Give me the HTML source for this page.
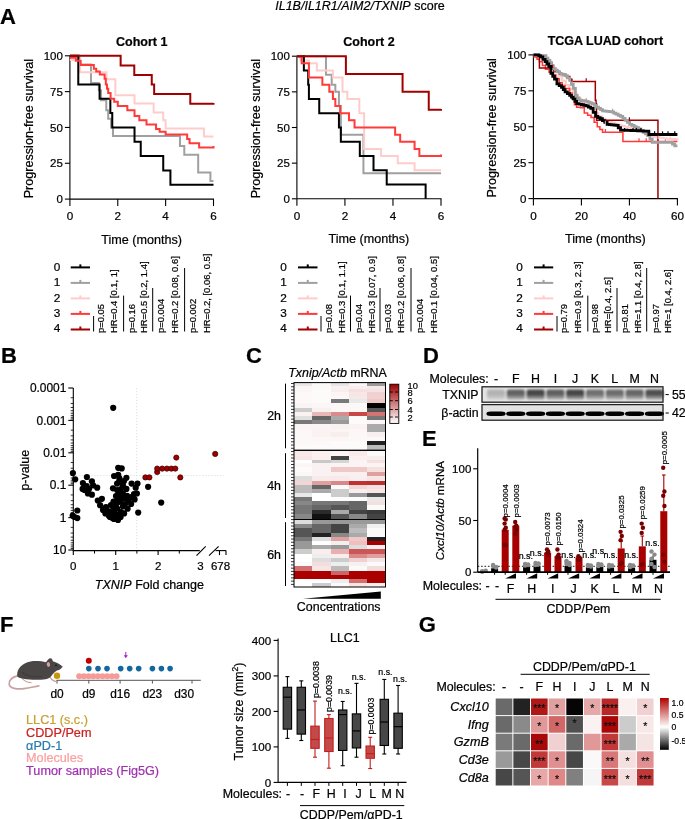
<!DOCTYPE html>
<html><head><meta charset="utf-8"><title>fig</title><style>html,body{margin:0;padding:0;background:#fff;width:685px;height:819px;overflow:hidden}svg{display:block;opacity:0.999}text{font-family:"Liberation Sans",sans-serif;stroke-width:0.22px}text:not([stroke]){stroke:#000}</style></head><body>
<svg width="685" height="819" viewBox="0 0 685 819">
<text x="0.00" y="23.70" font-size="22" font-weight="bold">A</text>
<text x="1.00" y="362.80" font-size="22" font-weight="bold">B</text>
<text x="246.00" y="362.50" font-size="22" font-weight="bold">C</text>
<text x="423.00" y="363.00" font-size="22" font-weight="bold">D</text>
<text x="422.00" y="445.60" font-size="22" font-weight="bold">E</text>
<text x="0.00" y="631.80" font-size="22" font-weight="bold">F</text>
<text x="418.70" y="631.50" font-size="22" font-weight="bold">G</text>
<text x="360" y="9.5" font-size="12.5" text-anchor="middle"><tspan font-style="italic">IL1B/IL1R1/AIM2/TXNIP</tspan> score</text>
<line x1="69.90" y1="55.30" x2="69.90" y2="199.10" stroke="#000" stroke-width="1.1"/>
<line x1="69.90" y1="199.10" x2="214.00" y2="199.10" stroke="#000" stroke-width="1.1"/>
<line x1="64.90" y1="199.10" x2="69.90" y2="199.10" stroke="#000" stroke-width="1.1"/>
<text x="62.90" y="203.20" font-size="11.5" text-anchor="end">0</text>
<line x1="64.90" y1="163.27" x2="69.90" y2="163.27" stroke="#000" stroke-width="1.1"/>
<text x="62.90" y="167.37" font-size="11.5" text-anchor="end">25</text>
<line x1="64.90" y1="127.45" x2="69.90" y2="127.45" stroke="#000" stroke-width="1.1"/>
<text x="62.90" y="131.55" font-size="11.5" text-anchor="end">50</text>
<line x1="64.90" y1="91.62" x2="69.90" y2="91.62" stroke="#000" stroke-width="1.1"/>
<text x="62.90" y="95.72" font-size="11.5" text-anchor="end">75</text>
<line x1="64.90" y1="55.80" x2="69.90" y2="55.80" stroke="#000" stroke-width="1.1"/>
<text x="62.90" y="59.90" font-size="11.5" text-anchor="end">100</text>
<line x1="69.90" y1="199.10" x2="69.90" y2="206.10" stroke="#000" stroke-width="1.1"/>
<text x="69.90" y="220.30" font-size="11.7" text-anchor="middle">0</text>
<line x1="117.77" y1="199.10" x2="117.77" y2="206.10" stroke="#000" stroke-width="1.1"/>
<text x="117.77" y="220.30" font-size="11.7" text-anchor="middle">2</text>
<line x1="165.63" y1="199.10" x2="165.63" y2="206.10" stroke="#000" stroke-width="1.1"/>
<text x="165.63" y="220.30" font-size="11.7" text-anchor="middle">4</text>
<line x1="213.50" y1="199.10" x2="213.50" y2="206.10" stroke="#000" stroke-width="1.1"/>
<text x="213.50" y="220.30" font-size="11.7" text-anchor="middle">6</text>
<text x="141.70" y="243.60" font-size="12.6" text-anchor="middle">Time (months)</text>
<text x="32.90" y="128.65" font-size="12.6" text-anchor="middle" transform="rotate(-90 32.90 128.65)">Progression-free survival</text>
<text x="141.70" y="45.80" font-size="12.5" text-anchor="middle" font-weight="bold">Cohort 1</text>
<path d="M69.90,55.80 H79.47 V64.40 H90.96 V83.03 H98.86 V90.19 H101.01 V100.22 H106.28 V110.25 H108.19 V118.85 H111.07 V127.45 H112.98 V136.05 H179.99 V146.08 H184.30 V154.68 H198.18 V172.45 H210.39 V181.04 H213.50 V181.04" fill="none" stroke="#a0a0a0" stroke-width="2.0" stroke-linejoin="miter" stroke-linecap="butt"/>
<path d="M69.90,60.10 H79.95 V72.28 H106.52 V79.30 H115.37 V95.35 H134.52 V103.52 H153.67 V112.40 H163.24 V120.28 H165.63 V128.60 H203.93 V136.48 H213.50 V136.48" fill="none" stroke="#ffcccc" stroke-width="2.0" stroke-linejoin="miter" stroke-linecap="butt"/>
<path d="M69.90,55.80 H78.28 V84.46 H99.58 V98.79 H110.35 V113.12 H112.26 V127.45 H134.52 V141.78 H140.74 V156.11 H163.24 V170.44 H170.42 V184.77 H213.50 V184.77" fill="none" stroke="#000000" stroke-width="2.0" stroke-linejoin="miter" stroke-linecap="butt"/>
<path d="M69.90,57.66 H75.88 V60.67 H80.67 V65.11 H93.83 V68.70 H96.23 V71.56 H99.82 V74.43 H104.60 V78.73 H105.80 V84.46 H107.00 V88.76 H108.19 V93.06 H110.59 V98.79 H114.18 V101.66 H117.77 V105.95 H127.34 V110.25 H134.52 V115.99 H139.31 V120.28 H146.49 V124.58 H156.06 V128.88 H159.65 V131.75 H165.63 V134.61 H187.17 V138.91 H189.57 V143.21 H199.14 V147.51 H213.50 V146.08" fill="none" stroke="#ff3a3a" stroke-width="2.0" stroke-linejoin="miter" stroke-linecap="butt"/>
<path d="M69.90,55.80 H120.64 V65.40 H134.28 V75.00 H151.75 V84.46 H154.15 V94.06 H190.28 V103.66 H213.50 V103.09" fill="none" stroke="#a00000" stroke-width="2.0" stroke-linejoin="miter" stroke-linecap="butt"/>
<line x1="296.90" y1="55.70" x2="296.90" y2="198.80" stroke="#000" stroke-width="1.1"/>
<line x1="296.90" y1="198.80" x2="441.50" y2="198.80" stroke="#000" stroke-width="1.1"/>
<line x1="291.90" y1="198.80" x2="296.90" y2="198.80" stroke="#000" stroke-width="1.1"/>
<text x="289.90" y="202.90" font-size="11.5" text-anchor="end">0</text>
<line x1="291.90" y1="163.15" x2="296.90" y2="163.15" stroke="#000" stroke-width="1.1"/>
<text x="289.90" y="167.25" font-size="11.5" text-anchor="end">25</text>
<line x1="291.90" y1="127.50" x2="296.90" y2="127.50" stroke="#000" stroke-width="1.1"/>
<text x="289.90" y="131.60" font-size="11.5" text-anchor="end">50</text>
<line x1="291.90" y1="91.85" x2="296.90" y2="91.85" stroke="#000" stroke-width="1.1"/>
<text x="289.90" y="95.95" font-size="11.5" text-anchor="end">75</text>
<line x1="291.90" y1="56.20" x2="296.90" y2="56.20" stroke="#000" stroke-width="1.1"/>
<text x="289.90" y="60.30" font-size="11.5" text-anchor="end">100</text>
<line x1="296.90" y1="198.80" x2="296.90" y2="205.80" stroke="#000" stroke-width="1.1"/>
<text x="296.90" y="220.00" font-size="11.7" text-anchor="middle">0</text>
<line x1="344.93" y1="198.80" x2="344.93" y2="205.80" stroke="#000" stroke-width="1.1"/>
<text x="344.93" y="220.00" font-size="11.7" text-anchor="middle">2</text>
<line x1="392.97" y1="198.80" x2="392.97" y2="205.80" stroke="#000" stroke-width="1.1"/>
<text x="392.97" y="220.00" font-size="11.7" text-anchor="middle">4</text>
<line x1="441.00" y1="198.80" x2="441.00" y2="205.80" stroke="#000" stroke-width="1.1"/>
<text x="441.00" y="220.00" font-size="11.7" text-anchor="middle">6</text>
<text x="368.90" y="243.30" font-size="12.6" text-anchor="middle">Time (months)</text>
<text x="259.90" y="128.70" font-size="12.6" text-anchor="middle" transform="rotate(-90 259.90 128.70)">Progression-free survival</text>
<text x="368.95" y="46.20" font-size="12.5" text-anchor="middle" font-weight="bold">Cohort 2</text>
<path d="M296.90,56.20 H325.96 V74.74 H331.72 V84.72 H335.33 V91.85 H338.93 V106.11 H340.85 V134.63 H363.43 V173.13 H441.00 V173.13" fill="none" stroke="#a0a0a0" stroke-width="2.0" stroke-linejoin="miter" stroke-linecap="butt"/>
<path d="M296.90,56.20 H300.50 V60.48 H308.91 V63.33 H316.83 V70.46 H332.92 V77.59 H342.53 V91.85 H347.33 V98.98 H359.34 V113.24 H364.15 V148.89 H380.96 V156.02 H397.77 V163.15 H414.58 V170.28 H441.00 V170.28" fill="none" stroke="#ffcccc" stroke-width="2.0" stroke-linejoin="miter" stroke-linecap="butt"/>
<path d="M296.90,56.20 H303.86 V70.46 H308.19 V84.72 H308.91 V98.98 H319.24 V113.24 H338.93 V127.50 H340.85 V141.76 H359.82 V156.02 H373.51 V170.28 H386.72 V184.54 H425.63 V198.80" fill="none" stroke="#000000" stroke-width="2.0" stroke-linejoin="miter" stroke-linecap="butt"/>
<path d="M296.90,56.20 H301.70 V63.33 H308.91 V77.59 H322.36 V84.72 H329.32 V91.85 H332.92 V98.98 H335.33 V106.11 H340.13 V113.24 H349.02 V120.37 H354.54 V127.50 H395.13 V134.63 H400.17 V141.76 H414.58 V148.89 H419.38 V156.02 H441.00 V154.59" fill="none" stroke="#ff3a3a" stroke-width="2.0" stroke-linejoin="miter" stroke-linecap="butt"/>
<path d="M296.90,56.20 H345.89 V74.02 H402.57 V91.85 H428.75 V109.67 H441.00 V108.96" fill="none" stroke="#a00000" stroke-width="2.0" stroke-linejoin="miter" stroke-linecap="butt"/>
<line x1="533.40" y1="54.40" x2="533.40" y2="198.60" stroke="#000" stroke-width="1.1"/>
<line x1="533.40" y1="198.60" x2="677.90" y2="198.60" stroke="#000" stroke-width="1.1"/>
<line x1="528.40" y1="198.60" x2="533.40" y2="198.60" stroke="#000" stroke-width="1.1"/>
<text x="526.40" y="202.70" font-size="11.5" text-anchor="end">0</text>
<line x1="528.40" y1="162.68" x2="533.40" y2="162.68" stroke="#000" stroke-width="1.1"/>
<text x="526.40" y="166.78" font-size="11.5" text-anchor="end">25</text>
<line x1="528.40" y1="126.75" x2="533.40" y2="126.75" stroke="#000" stroke-width="1.1"/>
<text x="526.40" y="130.85" font-size="11.5" text-anchor="end">50</text>
<line x1="528.40" y1="90.82" x2="533.40" y2="90.82" stroke="#000" stroke-width="1.1"/>
<text x="526.40" y="94.92" font-size="11.5" text-anchor="end">75</text>
<line x1="528.40" y1="54.90" x2="533.40" y2="54.90" stroke="#000" stroke-width="1.1"/>
<text x="526.40" y="59.00" font-size="11.5" text-anchor="end">100</text>
<line x1="533.40" y1="198.60" x2="533.40" y2="205.60" stroke="#000" stroke-width="1.1"/>
<text x="533.40" y="219.80" font-size="11.7" text-anchor="middle">0</text>
<line x1="581.40" y1="198.60" x2="581.40" y2="205.60" stroke="#000" stroke-width="1.1"/>
<text x="581.40" y="219.80" font-size="11.7" text-anchor="middle">20</text>
<line x1="629.40" y1="198.60" x2="629.40" y2="205.60" stroke="#000" stroke-width="1.1"/>
<text x="629.40" y="219.80" font-size="11.7" text-anchor="middle">40</text>
<line x1="677.40" y1="198.60" x2="677.40" y2="205.60" stroke="#000" stroke-width="1.1"/>
<text x="677.40" y="219.80" font-size="11.7" text-anchor="middle">60</text>
<text x="605.40" y="243.10" font-size="12.6" text-anchor="middle">Time (months)</text>
<text x="496.40" y="127.95" font-size="12.6" text-anchor="middle" transform="rotate(-90 496.40 127.95)">Progression-free survival</text>
<text x="605.40" y="44.90" font-size="12.5" text-anchor="middle" font-weight="bold">TCGA LUAD cohort</text>
<path d="M533.40,54.90 H537.00 V56.34 H540.60 V57.77 H544.20 V60.65 H547.80 V63.52 H551.40 V67.83 H555.00 V72.14 H558.60 V76.46 H562.20 V80.77 H565.80 V85.08 H569.40 V89.39 H573.00 V93.70 H576.60 V98.01 H580.20 V100.88 H583.80 V103.76 H587.40 V106.63 H591.00 V109.51 H594.60 V113.10 H598.20 V116.69 H601.80 V118.85 H605.40 V121.00 H608.60 V121.96 H611.80 V122.92 H615.00 V123.88 H618.20 V124.83 H621.40 V125.79 H624.60 V126.75 H627.80 V127.71 H631.00 V128.67 H634.20 V129.62 H637.40 V130.58 H640.60 V131.54 H643.80 V132.50 H647.00 V133.94 H650.20 V135.37 H653.40 V136.81 H656.60 V137.29 H659.80 V137.77 H663.00 V138.25 H665.88 V138.53 H668.76 V138.82 H671.64 V139.11 H674.52 V139.40 H677.40 V139.68" fill="none" stroke="#ffcccc" stroke-width="2.2" stroke-linejoin="miter" stroke-linecap="butt"/>
<path d="M533.40,56.91 H537.00 V59.21 H539.40 V61.65 H542.40 V65.46 H545.40 V69.27 H549.00 V72.14 H552.60 V75.02 H555.96 V78.83 H559.32 V82.63 H562.20 V85.51 H565.08 V88.38 H569.64 V93.12 H572.04 V98.87 H574.44 V104.76 H576.60 V107.21 H580.44 V107.85 H584.28 V108.50 H584.28 V113.10 H587.64 V115.33 H591.00 V117.55 H594.12 V122.15 H597.24 V126.75 H599.88 V129.48 H602.52 V132.21 H622.92 V132.21 H622.92 V141.41 H677.40 V141.41" fill="none" stroke="#ff3a3a" stroke-width="1.5" stroke-linejoin="miter" stroke-linecap="butt"/>
<path d="M533.40,54.90 H539.40 V67.98 H551.40 V67.98 H553.80 V71.43 H559.80 V74.30 H565.80 V76.46 H569.88 V80.05 H572.04 V81.48 H594.84 V81.48 H595.32 V100.17 H596.04 V103.76 H596.52 V120.28 H657.96 V120.28 H657.96 V198.60" fill="none" stroke="#a00000" stroke-width="1.5" stroke-linejoin="miter" stroke-linecap="butt"/>
<path d="M533.40,54.90 H535.51 V55.07 H537.62 V55.24 H539.74 V55.42 H541.85 V55.59 H543.96 V55.76 H545.96 V58.06 H547.96 V60.36 H549.96 V62.66 H551.64 V65.61 H553.32 V68.55 H555.32 V70.13 H557.32 V71.71 H559.32 V73.29 H561.24 V74.06 H563.16 V74.83 H565.08 V75.59 H567.36 V77.96 H569.64 V80.33 H571.44 V84.36 H573.24 V88.38 H575.40 V95.42 H577.20 V97.79 H579.00 V100.17 H581.32 V100.55 H583.64 V100.93 H585.96 V101.32 H587.96 V102.08 H589.96 V102.85 H591.96 V103.61 H594.24 V105.41 H596.52 V107.21 H598.52 V108.40 H600.52 V109.60 H602.52 V110.80 H604.74 V111.09 H606.96 V111.37 H609.18 V111.66 H611.40 V111.95 H613.68 V113.06 H615.96 V114.18 H618.24 V115.29 H620.52 V116.40 H622.80 V118.38 H625.08 V120.36 H627.36 V122.33 H629.64 V124.31 H631.86 V125.46 H634.08 V126.61 H636.30 V127.76 H638.52 V128.91 H640.80 V130.59 H643.08 V132.28 H645.36 V133.97 H647.64 V135.66 H649.92 V139.04 H652.20 V142.41 H670.20 V142.41 H672.48 V144.14 H674.76 V145.86 H677.40 V145.86" fill="none" stroke="#a0a0a0" stroke-width="2.8" stroke-linejoin="miter" stroke-linecap="butt"/>
<path d="M533.40,54.90 H537.00 V54.90 H538.80 V55.91 H540.60 V56.91 H542.88 V59.28 H545.16 V61.65 H546.96 V64.02 H548.76 V66.40 H550.92 V73.29 H552.72 V76.24 H554.52 V79.19 H556.92 V83.78 H559.20 V85.58 H561.48 V87.38 H563.28 V89.68 H565.08 V91.97 H567.36 V93.70 H569.64 V95.42 H571.44 V97.15 H573.24 V98.87 H574.92 V101.24 H576.60 V103.61 H579.00 V104.19 H581.40 V104.76 H583.68 V105.34 H585.96 V105.91 H588.36 V107.13 H590.76 V108.36 H593.16 V112.38 H595.56 V116.40 H597.84 V117.55 H600.12 V118.70 H602.44 V120.57 H604.76 V122.44 H607.08 V124.31 H609.30 V124.59 H611.52 V124.88 H613.74 V125.17 H615.96 V125.46 H618.24 V127.76 H620.52 V130.06 H622.61 V130.14 H624.69 V130.23 H626.78 V130.32 H628.86 V130.41 H630.95 V130.50 H633.04 V130.59 H635.12 V130.67 H637.21 V130.76 H639.30 V130.85 H641.38 V130.94 H643.47 V131.03 H645.55 V131.12 H647.64 V131.20 H648.84 V134.51 H677.40 V134.51" fill="none" stroke="#000000" stroke-width="2.8" stroke-linejoin="miter" stroke-linecap="butt"/>
<line x1="633.00" y1="128.05" x2="633.00" y2="131.25" stroke="#000000" stroke-width="1.2"/>
<line x1="636.36" y1="128.05" x2="636.36" y2="131.25" stroke="#000000" stroke-width="1.2"/>
<line x1="640.92" y1="128.05" x2="640.92" y2="131.25" stroke="#000000" stroke-width="1.2"/>
<line x1="662.52" y1="131.35" x2="662.52" y2="134.55" stroke="#000000" stroke-width="1.2"/>
<line x1="668.04" y1="131.35" x2="668.04" y2="134.55" stroke="#000000" stroke-width="1.2"/>
<line x1="674.76" y1="131.35" x2="674.76" y2="134.55" stroke="#000000" stroke-width="1.2"/>
<line x1="624.60" y1="128.05" x2="624.60" y2="131.25" stroke="#000000" stroke-width="1.2"/>
<line x1="654.60" y1="131.35" x2="654.60" y2="134.55" stroke="#000000" stroke-width="1.2"/>
<line x1="605.40" y1="120.73" x2="605.40" y2="123.93" stroke="#a0a0a0" stroke-width="1.2"/>
<line x1="612.60" y1="108.81" x2="612.60" y2="112.01" stroke="#a0a0a0" stroke-width="1.2"/>
<line x1="586.20" y1="98.18" x2="586.20" y2="101.38" stroke="#a0a0a0" stroke-width="1.2"/>
<line x1="665.40" y1="139.25" x2="665.40" y2="142.45" stroke="#a0a0a0" stroke-width="1.2"/>
<line x1="552.60" y1="64.87" x2="552.60" y2="68.07" stroke="#a00000" stroke-width="1.2"/>
<line x1="571.80" y1="78.37" x2="571.80" y2="81.57" stroke="#a00000" stroke-width="1.2"/>
<line x1="586.20" y1="78.37" x2="586.20" y2="81.57" stroke="#a00000" stroke-width="1.2"/>
<line x1="629.40" y1="117.14" x2="629.40" y2="120.34" stroke="#a00000" stroke-width="1.2"/>
<line x1="605.40" y1="129.06" x2="605.40" y2="132.26" stroke="#ff3a3a" stroke-width="1.2"/>
<line x1="639.00" y1="138.25" x2="639.00" y2="141.45" stroke="#ff3a3a" stroke-width="1.2"/>
<line x1="646.20" y1="138.25" x2="646.20" y2="141.45" stroke="#ff3a3a" stroke-width="1.2"/>
<line x1="658.20" y1="135.81" x2="658.20" y2="139.01" stroke="#ffcccc" stroke-width="1.2"/>
<line x1="670.20" y1="136.52" x2="670.20" y2="139.72" stroke="#ffcccc" stroke-width="1.2"/>
<text x="57.00" y="271.10" font-size="11.8" text-anchor="middle">0</text>
<line x1="70.70" y1="267.40" x2="90.00" y2="267.40" stroke="#000000" stroke-width="2.0"/>
<line x1="80.35" y1="264.40" x2="80.35" y2="267.40" stroke="#000000" stroke-width="2.0"/>
<text x="57.00" y="286.30" font-size="11.8" text-anchor="middle">1</text>
<line x1="70.70" y1="282.90" x2="90.00" y2="282.90" stroke="#a0a0a0" stroke-width="2.0"/>
<line x1="80.35" y1="279.90" x2="80.35" y2="282.90" stroke="#a0a0a0" stroke-width="2.0"/>
<text x="57.00" y="301.50" font-size="11.8" text-anchor="middle">2</text>
<line x1="70.70" y1="298.40" x2="90.00" y2="298.40" stroke="#ffcccc" stroke-width="2.0"/>
<line x1="80.35" y1="295.40" x2="80.35" y2="298.40" stroke="#ffcccc" stroke-width="2.0"/>
<text x="57.00" y="316.80" font-size="11.8" text-anchor="middle">3</text>
<line x1="70.70" y1="313.90" x2="90.00" y2="313.90" stroke="#ff3a3a" stroke-width="2.0"/>
<line x1="80.35" y1="310.90" x2="80.35" y2="313.90" stroke="#ff3a3a" stroke-width="2.0"/>
<text x="57.00" y="332.00" font-size="11.8" text-anchor="middle">4</text>
<line x1="70.70" y1="329.50" x2="90.00" y2="329.50" stroke="#a00000" stroke-width="2.0"/>
<line x1="80.35" y1="326.50" x2="80.35" y2="329.50" stroke="#a00000" stroke-width="2.0"/>
<line x1="93.60" y1="316.00" x2="93.60" y2="331.50" stroke="#000" stroke-width="1"/>
<line x1="123.60" y1="295.60" x2="123.60" y2="331.50" stroke="#000" stroke-width="1"/>
<line x1="152.70" y1="288.00" x2="152.70" y2="331.50" stroke="#000" stroke-width="1"/>
<line x1="184.60" y1="268.00" x2="184.60" y2="331.50" stroke="#000" stroke-width="1"/>
<text x="104.40" y="333.00" font-size="9.45" transform="rotate(-90 104.40 333.00)">p=0.05</text>
<text x="116.90" y="333.00" font-size="9.45" transform="rotate(-90 116.90 333.00)">HR=0.4 [0.1, 1]</text>
<text x="135.40" y="333.00" font-size="9.45" transform="rotate(-90 135.40 333.00)">p=0.16</text>
<text x="147.40" y="333.00" font-size="9.45" transform="rotate(-90 147.40 333.00)">HR=0.5 [0.2, 1.4]</text>
<text x="164.40" y="333.00" font-size="9.45" transform="rotate(-90 164.40 333.00)">p=0.004</text>
<text x="178.20" y="333.00" font-size="9.45" transform="rotate(-90 178.20 333.00)">HR=0.2 [0.08, 0.6]</text>
<text x="196.40" y="333.00" font-size="9.45" transform="rotate(-90 196.40 333.00)">p=0.002</text>
<text x="210.40" y="333.00" font-size="9.45" transform="rotate(-90 210.40 333.00)">HR=0.2, [0.06, 0.5]</text>
<text x="283.50" y="271.10" font-size="11.8" text-anchor="middle">0</text>
<line x1="298.00" y1="267.40" x2="317.50" y2="267.40" stroke="#000000" stroke-width="2.0"/>
<line x1="307.75" y1="264.40" x2="307.75" y2="267.40" stroke="#000000" stroke-width="2.0"/>
<text x="283.50" y="286.30" font-size="11.8" text-anchor="middle">1</text>
<line x1="298.00" y1="282.90" x2="317.50" y2="282.90" stroke="#a0a0a0" stroke-width="2.0"/>
<line x1="307.75" y1="279.90" x2="307.75" y2="282.90" stroke="#a0a0a0" stroke-width="2.0"/>
<text x="283.50" y="301.50" font-size="11.8" text-anchor="middle">2</text>
<line x1="298.00" y1="298.40" x2="317.50" y2="298.40" stroke="#ffcccc" stroke-width="2.0"/>
<line x1="307.75" y1="295.40" x2="307.75" y2="298.40" stroke="#ffcccc" stroke-width="2.0"/>
<text x="283.50" y="316.80" font-size="11.8" text-anchor="middle">3</text>
<line x1="298.00" y1="313.90" x2="317.50" y2="313.90" stroke="#ff3a3a" stroke-width="2.0"/>
<line x1="307.75" y1="310.90" x2="307.75" y2="313.90" stroke="#ff3a3a" stroke-width="2.0"/>
<text x="283.50" y="332.00" font-size="11.8" text-anchor="middle">4</text>
<line x1="298.00" y1="329.50" x2="317.50" y2="329.50" stroke="#a00000" stroke-width="2.0"/>
<line x1="307.75" y1="326.50" x2="307.75" y2="329.50" stroke="#a00000" stroke-width="2.0"/>
<line x1="321.00" y1="316.00" x2="321.00" y2="331.50" stroke="#000" stroke-width="1"/>
<line x1="350.50" y1="295.60" x2="350.50" y2="331.50" stroke="#000" stroke-width="1"/>
<line x1="380.00" y1="288.00" x2="380.00" y2="331.50" stroke="#000" stroke-width="1"/>
<line x1="411.00" y1="268.00" x2="411.00" y2="331.50" stroke="#000" stroke-width="1"/>
<text x="332.40" y="333.00" font-size="9.45" transform="rotate(-90 332.40 333.00)">p=0.08</text>
<text x="345.40" y="333.00" font-size="9.45" transform="rotate(-90 345.40 333.00)">HR=0.3 [0.1, 1.1]</text>
<text x="362.40" y="333.00" font-size="9.45" transform="rotate(-90 362.40 333.00)">p=0.04</text>
<text x="375.10" y="333.00" font-size="9.45" transform="rotate(-90 375.10 333.00)">HR=0.3 [0.07, 0.9]</text>
<text x="391.40" y="333.00" font-size="9.45" transform="rotate(-90 391.40 333.00)">p=0.03</text>
<text x="404.40" y="333.00" font-size="9.45" transform="rotate(-90 404.40 333.00)">HR=0.2 [0.06, 0.8]</text>
<text x="423.40" y="333.00" font-size="9.45" transform="rotate(-90 423.40 333.00)">p=0.004</text>
<text x="437.40" y="333.00" font-size="9.45" transform="rotate(-90 437.40 333.00)">HR=0.1 [0.04, 0.5]</text>
<text x="519.50" y="271.10" font-size="11.8" text-anchor="middle">0</text>
<line x1="534.00" y1="267.40" x2="553.20" y2="267.40" stroke="#000000" stroke-width="2.0"/>
<line x1="543.60" y1="264.40" x2="543.60" y2="267.40" stroke="#000000" stroke-width="2.0"/>
<text x="519.50" y="286.30" font-size="11.8" text-anchor="middle">1</text>
<line x1="534.00" y1="282.90" x2="553.20" y2="282.90" stroke="#a0a0a0" stroke-width="2.0"/>
<line x1="543.60" y1="279.90" x2="543.60" y2="282.90" stroke="#a0a0a0" stroke-width="2.0"/>
<text x="519.50" y="301.50" font-size="11.8" text-anchor="middle">2</text>
<line x1="534.00" y1="298.40" x2="553.20" y2="298.40" stroke="#ffcccc" stroke-width="2.0"/>
<line x1="543.60" y1="295.40" x2="543.60" y2="298.40" stroke="#ffcccc" stroke-width="2.0"/>
<text x="519.50" y="316.80" font-size="11.8" text-anchor="middle">3</text>
<line x1="534.00" y1="313.90" x2="553.20" y2="313.90" stroke="#ff3a3a" stroke-width="2.0"/>
<line x1="543.60" y1="310.90" x2="543.60" y2="313.90" stroke="#ff3a3a" stroke-width="2.0"/>
<text x="519.50" y="332.00" font-size="11.8" text-anchor="middle">4</text>
<line x1="534.00" y1="329.50" x2="553.20" y2="329.50" stroke="#a00000" stroke-width="2.0"/>
<line x1="543.60" y1="326.50" x2="543.60" y2="329.50" stroke="#a00000" stroke-width="2.0"/>
<line x1="557.00" y1="316.00" x2="557.00" y2="331.50" stroke="#000" stroke-width="1"/>
<line x1="587.80" y1="295.60" x2="587.80" y2="331.50" stroke="#000" stroke-width="1"/>
<line x1="617.00" y1="288.00" x2="617.00" y2="331.50" stroke="#000" stroke-width="1"/>
<line x1="646.70" y1="268.00" x2="646.70" y2="331.50" stroke="#000" stroke-width="1"/>
<text x="567.40" y="333.00" font-size="9.45" transform="rotate(-90 567.40 333.00)">p=0.79</text>
<text x="581.10" y="333.00" font-size="9.45" transform="rotate(-90 581.10 333.00)">HR=0.9 [0.3, 2.3]</text>
<text x="598.40" y="333.00" font-size="9.45" transform="rotate(-90 598.40 333.00)">p=0.98</text>
<text x="610.80" y="333.00" font-size="9.45" transform="rotate(-90 610.80 333.00)">HR=[0.4, 2.5]</text>
<text x="628.40" y="333.00" font-size="9.45" transform="rotate(-90 628.40 333.00)">p=0.81</text>
<text x="640.90" y="333.00" font-size="9.45" transform="rotate(-90 640.90 333.00)">HR=1.1 [0.4, 2.8]</text>
<text x="659.40" y="333.00" font-size="9.45" transform="rotate(-90 659.40 333.00)">p=0.97</text>
<text x="670.90" y="333.00" font-size="9.45" transform="rotate(-90 670.90 333.00)">HR=1 [0.4, 2.6]</text>
<line x1="136.7" y1="388" x2="136.7" y2="550.6" stroke="#d6d6d6" stroke-width="0.8" stroke-dasharray="1.2,1.8"/>
<line x1="73.3" y1="475.5" x2="224" y2="475.5" stroke="#d6d6d6" stroke-width="0.8" stroke-dasharray="1.2,1.8"/>
<line x1="73.30" y1="388.00" x2="73.30" y2="551.10" stroke="#000" stroke-width="1.1"/>
<line x1="68.30" y1="388.00" x2="73.30" y2="388.00" stroke="#000" stroke-width="1.1"/>
<text x="66.30" y="392.10" font-size="11.9" text-anchor="end">0.0001</text>
<line x1="70.70" y1="397.75" x2="73.30" y2="397.75" stroke="#000" stroke-width="0.8"/>
<line x1="70.70" y1="403.46" x2="73.30" y2="403.46" stroke="#000" stroke-width="0.8"/>
<line x1="70.70" y1="407.51" x2="73.30" y2="407.51" stroke="#000" stroke-width="0.8"/>
<line x1="70.70" y1="410.65" x2="73.30" y2="410.65" stroke="#000" stroke-width="0.8"/>
<line x1="70.70" y1="413.21" x2="73.30" y2="413.21" stroke="#000" stroke-width="0.8"/>
<line x1="70.70" y1="415.38" x2="73.30" y2="415.38" stroke="#000" stroke-width="0.8"/>
<line x1="70.70" y1="417.26" x2="73.30" y2="417.26" stroke="#000" stroke-width="0.8"/>
<line x1="70.70" y1="418.92" x2="73.30" y2="418.92" stroke="#000" stroke-width="0.8"/>
<line x1="68.30" y1="420.40" x2="73.30" y2="420.40" stroke="#000" stroke-width="1.1"/>
<text x="66.30" y="424.50" font-size="11.9" text-anchor="end">0.001</text>
<line x1="70.70" y1="430.15" x2="73.30" y2="430.15" stroke="#000" stroke-width="0.8"/>
<line x1="70.70" y1="435.86" x2="73.30" y2="435.86" stroke="#000" stroke-width="0.8"/>
<line x1="70.70" y1="439.91" x2="73.30" y2="439.91" stroke="#000" stroke-width="0.8"/>
<line x1="70.70" y1="443.05" x2="73.30" y2="443.05" stroke="#000" stroke-width="0.8"/>
<line x1="70.70" y1="445.61" x2="73.30" y2="445.61" stroke="#000" stroke-width="0.8"/>
<line x1="70.70" y1="447.78" x2="73.30" y2="447.78" stroke="#000" stroke-width="0.8"/>
<line x1="70.70" y1="449.66" x2="73.30" y2="449.66" stroke="#000" stroke-width="0.8"/>
<line x1="70.70" y1="451.32" x2="73.30" y2="451.32" stroke="#000" stroke-width="0.8"/>
<line x1="68.30" y1="452.80" x2="73.30" y2="452.80" stroke="#000" stroke-width="1.1"/>
<text x="66.30" y="456.90" font-size="11.9" text-anchor="end">0.01</text>
<line x1="70.70" y1="462.55" x2="73.30" y2="462.55" stroke="#000" stroke-width="0.8"/>
<line x1="70.70" y1="468.26" x2="73.30" y2="468.26" stroke="#000" stroke-width="0.8"/>
<line x1="70.70" y1="472.31" x2="73.30" y2="472.31" stroke="#000" stroke-width="0.8"/>
<line x1="70.70" y1="475.45" x2="73.30" y2="475.45" stroke="#000" stroke-width="0.8"/>
<line x1="70.70" y1="478.01" x2="73.30" y2="478.01" stroke="#000" stroke-width="0.8"/>
<line x1="70.70" y1="480.18" x2="73.30" y2="480.18" stroke="#000" stroke-width="0.8"/>
<line x1="70.70" y1="482.06" x2="73.30" y2="482.06" stroke="#000" stroke-width="0.8"/>
<line x1="70.70" y1="483.72" x2="73.30" y2="483.72" stroke="#000" stroke-width="0.8"/>
<line x1="68.30" y1="485.20" x2="73.30" y2="485.20" stroke="#000" stroke-width="1.1"/>
<text x="66.30" y="489.30" font-size="11.9" text-anchor="end">0.1</text>
<line x1="70.70" y1="494.95" x2="73.30" y2="494.95" stroke="#000" stroke-width="0.8"/>
<line x1="70.70" y1="500.66" x2="73.30" y2="500.66" stroke="#000" stroke-width="0.8"/>
<line x1="70.70" y1="504.71" x2="73.30" y2="504.71" stroke="#000" stroke-width="0.8"/>
<line x1="70.70" y1="507.85" x2="73.30" y2="507.85" stroke="#000" stroke-width="0.8"/>
<line x1="70.70" y1="510.41" x2="73.30" y2="510.41" stroke="#000" stroke-width="0.8"/>
<line x1="70.70" y1="512.58" x2="73.30" y2="512.58" stroke="#000" stroke-width="0.8"/>
<line x1="70.70" y1="514.46" x2="73.30" y2="514.46" stroke="#000" stroke-width="0.8"/>
<line x1="70.70" y1="516.12" x2="73.30" y2="516.12" stroke="#000" stroke-width="0.8"/>
<line x1="68.30" y1="517.60" x2="73.30" y2="517.60" stroke="#000" stroke-width="1.1"/>
<text x="66.30" y="521.70" font-size="11.9" text-anchor="end">1</text>
<line x1="70.70" y1="527.35" x2="73.30" y2="527.35" stroke="#000" stroke-width="0.8"/>
<line x1="70.70" y1="533.06" x2="73.30" y2="533.06" stroke="#000" stroke-width="0.8"/>
<line x1="70.70" y1="537.11" x2="73.30" y2="537.11" stroke="#000" stroke-width="0.8"/>
<line x1="70.70" y1="540.25" x2="73.30" y2="540.25" stroke="#000" stroke-width="0.8"/>
<line x1="70.70" y1="542.81" x2="73.30" y2="542.81" stroke="#000" stroke-width="0.8"/>
<line x1="70.70" y1="544.98" x2="73.30" y2="544.98" stroke="#000" stroke-width="0.8"/>
<line x1="70.70" y1="546.86" x2="73.30" y2="546.86" stroke="#000" stroke-width="0.8"/>
<line x1="70.70" y1="548.52" x2="73.30" y2="548.52" stroke="#000" stroke-width="0.8"/>
<line x1="68.30" y1="550.00" x2="73.30" y2="550.00" stroke="#000" stroke-width="1.1"/>
<text x="66.30" y="554.10" font-size="11.9" text-anchor="end">10</text>
<text x="29.00" y="470.20" font-size="12.4" text-anchor="middle" transform="rotate(-90 29.00 470.20)">p-value</text>
<line x1="72.80" y1="550.60" x2="199.80" y2="550.60" stroke="#000" stroke-width="1.1"/>
<line x1="196.50" y1="555.60" x2="205.70" y2="546.40" stroke="#000" stroke-width="1.1"/>
<line x1="209.00" y1="555.60" x2="218.60" y2="546.40" stroke="#000" stroke-width="1.1"/>
<line x1="215.50" y1="550.60" x2="226.00" y2="550.60" stroke="#000" stroke-width="1.1"/>
<line x1="73.30" y1="550.60" x2="73.30" y2="555.10" stroke="#000" stroke-width="1.1"/>
<text x="73.30" y="570.00" font-size="11.5" text-anchor="middle">0</text>
<line x1="115.70" y1="550.60" x2="115.70" y2="555.10" stroke="#000" stroke-width="1.1"/>
<text x="115.70" y="570.00" font-size="11.5" text-anchor="middle">1</text>
<line x1="158.10" y1="550.60" x2="158.10" y2="555.10" stroke="#000" stroke-width="1.1"/>
<text x="158.10" y="570.00" font-size="11.5" text-anchor="middle">2</text>
<line x1="94.50" y1="550.60" x2="94.50" y2="553.60" stroke="#000" stroke-width="1"/>
<line x1="136.90" y1="550.60" x2="136.90" y2="553.60" stroke="#000" stroke-width="1"/>
<line x1="179.30" y1="550.60" x2="179.30" y2="553.60" stroke="#000" stroke-width="1"/>
<line x1="219.50" y1="550.60" x2="219.50" y2="555.10" stroke="#000" stroke-width="1.1"/>
<line x1="226.00" y1="550.60" x2="226.00" y2="555.10" stroke="#000" stroke-width="1.1"/>
<text x="200.40" y="570.00" font-size="11.5" text-anchor="middle">3</text>
<text x="220.50" y="570.00" font-size="11.5" text-anchor="middle">678</text>
<text x="149.4" y="588.8" font-size="12.5" text-anchor="middle"><tspan font-style="italic">TXNIP</tspan> Fold change</text>
<circle cx="113.20" cy="407.80" r="3.1" fill="#000"/>
<circle cx="72.90" cy="473.10" r="3.1" fill="#000"/>
<circle cx="75.20" cy="479.30" r="3.1" fill="#000"/>
<circle cx="86.90" cy="477.00" r="3.1" fill="#000"/>
<circle cx="82.90" cy="483.00" r="3.1" fill="#000"/>
<circle cx="82.60" cy="488.90" r="3.1" fill="#000"/>
<circle cx="86.70" cy="486.00" r="3.1" fill="#000"/>
<circle cx="91.90" cy="481.30" r="3.1" fill="#000"/>
<circle cx="93.10" cy="485.40" r="3.1" fill="#000"/>
<circle cx="97.20" cy="487.70" r="3.1" fill="#000"/>
<circle cx="87.90" cy="493.50" r="3.1" fill="#000"/>
<circle cx="91.90" cy="494.70" r="3.1" fill="#000"/>
<circle cx="84.50" cy="490.00" r="3.1" fill="#000"/>
<circle cx="89.00" cy="489.00" r="3.1" fill="#000"/>
<circle cx="77.30" cy="510.50" r="3.1" fill="#000"/>
<circle cx="72.70" cy="515.70" r="3.1" fill="#000"/>
<circle cx="77.30" cy="518.10" r="3.1" fill="#000"/>
<circle cx="74.50" cy="517.00" r="3.1" fill="#000"/>
<circle cx="97.80" cy="500.50" r="3.1" fill="#000"/>
<circle cx="101.90" cy="498.80" r="3.1" fill="#000"/>
<circle cx="100.10" cy="505.20" r="3.1" fill="#000"/>
<circle cx="103.00" cy="509.90" r="3.1" fill="#000"/>
<circle cx="105.40" cy="513.40" r="3.1" fill="#000"/>
<circle cx="108.90" cy="515.70" r="3.1" fill="#000"/>
<circle cx="112.40" cy="518.10" r="3.1" fill="#000"/>
<circle cx="117.10" cy="518.60" r="3.1" fill="#000"/>
<circle cx="120.60" cy="516.90" r="3.1" fill="#000"/>
<circle cx="124.10" cy="513.40" r="3.1" fill="#000"/>
<circle cx="127.60" cy="508.70" r="3.1" fill="#000"/>
<circle cx="131.10" cy="504.00" r="3.1" fill="#000"/>
<circle cx="134.60" cy="499.40" r="3.1" fill="#000"/>
<circle cx="136.90" cy="493.50" r="3.1" fill="#000"/>
<circle cx="135.70" cy="487.70" r="3.1" fill="#000"/>
<circle cx="137.50" cy="483.60" r="3.1" fill="#000"/>
<circle cx="131.60" cy="483.60" r="3.1" fill="#000"/>
<circle cx="126.40" cy="477.80" r="3.1" fill="#000"/>
<circle cx="118.20" cy="467.80" r="3.1" fill="#000"/>
<circle cx="121.70" cy="468.40" r="3.1" fill="#000"/>
<circle cx="114.10" cy="476.00" r="3.1" fill="#000"/>
<circle cx="118.20" cy="474.90" r="3.1" fill="#000"/>
<circle cx="119.40" cy="478.40" r="3.1" fill="#000"/>
<circle cx="117.10" cy="483.60" r="3.1" fill="#000"/>
<circle cx="113.00" cy="488.30" r="3.1" fill="#000"/>
<circle cx="117.10" cy="490.00" r="3.1" fill="#000"/>
<circle cx="118.20" cy="494.70" r="3.1" fill="#000"/>
<circle cx="113.50" cy="501.70" r="3.1" fill="#000"/>
<circle cx="122.90" cy="485.40" r="3.1" fill="#000"/>
<circle cx="126.40" cy="488.90" r="3.1" fill="#000"/>
<circle cx="122.90" cy="493.50" r="3.1" fill="#000"/>
<circle cx="127.00" cy="495.90" r="3.1" fill="#000"/>
<circle cx="128.70" cy="500.50" r="3.1" fill="#000"/>
<circle cx="131.10" cy="497.00" r="3.1" fill="#000"/>
<circle cx="120.60" cy="501.70" r="3.1" fill="#000"/>
<circle cx="122.90" cy="506.40" r="3.1" fill="#000"/>
<circle cx="117.10" cy="508.70" r="3.1" fill="#000"/>
<circle cx="114.70" cy="513.40" r="3.1" fill="#000"/>
<circle cx="119.40" cy="514.60" r="3.1" fill="#000"/>
<circle cx="110.00" cy="512.00" r="3.1" fill="#000"/>
<circle cx="106.00" cy="507.00" r="3.1" fill="#000"/>
<circle cx="115.00" cy="517.00" r="3.1" fill="#000"/>
<circle cx="121.00" cy="512.00" r="3.1" fill="#000"/>
<circle cx="125.00" cy="504.00" r="3.1" fill="#000"/>
<circle cx="118.00" cy="499.00" r="3.1" fill="#000"/>
<circle cx="116.00" cy="496.00" r="3.1" fill="#000"/>
<circle cx="121.00" cy="489.00" r="3.1" fill="#000"/>
<circle cx="119.00" cy="482.00" r="3.1" fill="#000"/>
<circle cx="124.00" cy="481.00" r="3.1" fill="#000"/>
<circle cx="115.00" cy="505.00" r="3.1" fill="#000"/>
<circle cx="111.00" cy="505.00" r="3.1" fill="#000"/>
<circle cx="108.00" cy="511.00" r="3.1" fill="#000"/>
<circle cx="113.00" cy="510.00" r="3.1" fill="#000"/>
<circle cx="117.00" cy="503.00" r="3.1" fill="#000"/>
<circle cx="125.00" cy="498.00" r="3.1" fill="#000"/>
<circle cx="134.00" cy="494.00" r="3.1" fill="#000"/>
<circle cx="122.00" cy="498.00" r="3.1" fill="#000"/>
<circle cx="110.00" cy="517.00" r="3.1" fill="#000"/>
<circle cx="114.00" cy="519.00" r="3.1" fill="#000"/>
<circle cx="118.00" cy="520.00" r="3.1" fill="#000"/>
<circle cx="138.20" cy="512.60" r="3.1" fill="#000"/>
<circle cx="148.10" cy="486.80" r="3.1" fill="#000"/>
<circle cx="161.20" cy="502.60" r="3.1" fill="#000"/>
<circle cx="145.40" cy="477.40" r="2.6" fill="#a00000" stroke="#400000" stroke-width="0.8"/>
<circle cx="149.40" cy="477.40" r="2.6" fill="#a00000" stroke="#400000" stroke-width="0.8"/>
<circle cx="157.20" cy="472.00" r="2.6" fill="#a00000" stroke="#400000" stroke-width="0.8"/>
<circle cx="157.20" cy="468.60" r="2.6" fill="#a00000" stroke="#400000" stroke-width="0.8"/>
<circle cx="162.20" cy="468.60" r="2.6" fill="#a00000" stroke="#400000" stroke-width="0.8"/>
<circle cx="166.90" cy="468.60" r="2.6" fill="#a00000" stroke="#400000" stroke-width="0.8"/>
<circle cx="171.30" cy="468.60" r="2.6" fill="#a00000" stroke="#400000" stroke-width="0.8"/>
<circle cx="175.30" cy="468.60" r="2.6" fill="#a00000" stroke="#400000" stroke-width="0.8"/>
<circle cx="176.30" cy="457.60" r="2.6" fill="#a00000" stroke="#400000" stroke-width="0.8"/>
<circle cx="180.30" cy="477.40" r="2.6" fill="#a00000" stroke="#400000" stroke-width="0.8"/>
<circle cx="215.20" cy="453.90" r="2.6" fill="#a00000" stroke="#400000" stroke-width="0.8"/>
<rect x="294.00" y="382.38" width="18.60" height="3.45" fill="#e8e8e8" shape-rendering="crispEdges"/>
<rect x="312.30" y="382.38" width="18.60" height="3.45" fill="#fbf8f8" shape-rendering="crispEdges"/>
<rect x="330.60" y="382.38" width="18.60" height="3.45" fill="#e6e6e6" shape-rendering="crispEdges"/>
<rect x="348.90" y="382.38" width="18.60" height="3.45" fill="#fbf6f6" shape-rendering="crispEdges"/>
<rect x="367.20" y="382.38" width="18.60" height="3.45" fill="#9a9a9a" shape-rendering="crispEdges"/>
<rect x="294.00" y="385.53" width="18.60" height="3.63" fill="#fbf5f5" shape-rendering="crispEdges"/>
<rect x="312.30" y="385.53" width="18.60" height="3.63" fill="#fcf8f8" shape-rendering="crispEdges"/>
<rect x="330.60" y="385.53" width="18.60" height="3.63" fill="#faf0f0" shape-rendering="crispEdges"/>
<rect x="348.90" y="385.53" width="18.60" height="3.63" fill="#f9eeee" shape-rendering="crispEdges"/>
<rect x="367.20" y="385.53" width="18.60" height="3.63" fill="#f5e8e8" shape-rendering="crispEdges"/>
<rect x="294.00" y="388.86" width="18.60" height="3.45" fill="#fcf6f6" shape-rendering="crispEdges"/>
<rect x="312.30" y="388.86" width="18.60" height="3.45" fill="#fdfafa" shape-rendering="crispEdges"/>
<rect x="330.60" y="388.86" width="18.60" height="3.45" fill="#f9eeee" shape-rendering="crispEdges"/>
<rect x="348.90" y="388.86" width="18.60" height="3.45" fill="#f5e0e0" shape-rendering="crispEdges"/>
<rect x="367.20" y="388.86" width="18.60" height="3.45" fill="#f5e2e2" shape-rendering="crispEdges"/>
<rect x="294.00" y="392.02" width="18.60" height="3.80" fill="#fdf9f9" shape-rendering="crispEdges"/>
<rect x="312.30" y="392.02" width="18.60" height="3.80" fill="#fdfafa" shape-rendering="crispEdges"/>
<rect x="330.60" y="392.02" width="18.60" height="3.80" fill="#fbf5f5" shape-rendering="crispEdges"/>
<rect x="348.90" y="392.02" width="18.60" height="3.80" fill="#f7e6e6" shape-rendering="crispEdges"/>
<rect x="367.20" y="392.02" width="18.60" height="3.80" fill="#f0d0d0" shape-rendering="crispEdges"/>
<rect x="294.00" y="395.52" width="18.60" height="3.80" fill="#fdf9f9" shape-rendering="crispEdges"/>
<rect x="312.30" y="395.52" width="18.60" height="3.80" fill="#fdfafa" shape-rendering="crispEdges"/>
<rect x="330.60" y="395.52" width="18.60" height="3.80" fill="#fcf8f8" shape-rendering="crispEdges"/>
<rect x="348.90" y="395.52" width="18.60" height="3.80" fill="#f7e8e8" shape-rendering="crispEdges"/>
<rect x="367.20" y="395.52" width="18.60" height="3.80" fill="#f0d0d0" shape-rendering="crispEdges"/>
<rect x="294.00" y="399.02" width="18.60" height="4.68" fill="#fdf9f9" shape-rendering="crispEdges"/>
<rect x="312.30" y="399.02" width="18.60" height="4.68" fill="#fdfafa" shape-rendering="crispEdges"/>
<rect x="330.60" y="399.02" width="18.60" height="4.68" fill="#7a7a7a" shape-rendering="crispEdges"/>
<rect x="348.90" y="399.02" width="18.60" height="4.68" fill="#e8e8e8" shape-rendering="crispEdges"/>
<rect x="367.20" y="399.02" width="18.60" height="4.68" fill="#f0c8c8" shape-rendering="crispEdges"/>
<rect x="294.00" y="403.40" width="18.60" height="4.68" fill="#fbf4f4" shape-rendering="crispEdges"/>
<rect x="312.30" y="403.40" width="18.60" height="4.68" fill="#fcf6f6" shape-rendering="crispEdges"/>
<rect x="330.60" y="403.40" width="18.60" height="4.68" fill="#fcf8f8" shape-rendering="crispEdges"/>
<rect x="348.90" y="403.40" width="18.60" height="4.68" fill="#fcf8f8" shape-rendering="crispEdges"/>
<rect x="367.20" y="403.40" width="18.60" height="4.68" fill="#000000" shape-rendering="crispEdges"/>
<rect x="294.00" y="407.78" width="18.60" height="4.68" fill="#cccccc" shape-rendering="crispEdges"/>
<rect x="312.30" y="407.78" width="18.60" height="4.68" fill="#f9f0f0" shape-rendering="crispEdges"/>
<rect x="330.60" y="407.78" width="18.60" height="4.68" fill="#fcf8f8" shape-rendering="crispEdges"/>
<rect x="348.90" y="407.78" width="18.60" height="4.68" fill="#fcf8f8" shape-rendering="crispEdges"/>
<rect x="367.20" y="407.78" width="18.60" height="4.68" fill="#555555" shape-rendering="crispEdges"/>
<rect x="294.00" y="412.16" width="18.60" height="3.80" fill="#fbf2f2" shape-rendering="crispEdges"/>
<rect x="312.30" y="412.16" width="18.60" height="3.80" fill="#e8b8b8" shape-rendering="crispEdges"/>
<rect x="330.60" y="412.16" width="18.60" height="3.80" fill="#d88c8c" shape-rendering="crispEdges"/>
<rect x="348.90" y="412.16" width="18.60" height="3.80" fill="#c84848" shape-rendering="crispEdges"/>
<rect x="367.20" y="412.16" width="18.60" height="3.80" fill="#d47474" shape-rendering="crispEdges"/>
<rect x="294.00" y="415.67" width="18.60" height="4.68" fill="#e0e0e0" shape-rendering="crispEdges"/>
<rect x="312.30" y="415.67" width="18.60" height="4.68" fill="#666666" shape-rendering="crispEdges"/>
<rect x="330.60" y="415.67" width="18.60" height="4.68" fill="#aaaaaa" shape-rendering="crispEdges"/>
<rect x="348.90" y="415.67" width="18.60" height="4.68" fill="#fdfafa" shape-rendering="crispEdges"/>
<rect x="367.20" y="415.67" width="18.60" height="4.68" fill="#777777" shape-rendering="crispEdges"/>
<rect x="294.00" y="420.05" width="18.60" height="4.68" fill="#777777" shape-rendering="crispEdges"/>
<rect x="312.30" y="420.05" width="18.60" height="4.68" fill="#888888" shape-rendering="crispEdges"/>
<rect x="330.60" y="420.05" width="18.60" height="4.68" fill="#999999" shape-rendering="crispEdges"/>
<rect x="348.90" y="420.05" width="18.60" height="4.68" fill="#fdfafa" shape-rendering="crispEdges"/>
<rect x="367.20" y="420.05" width="18.60" height="4.68" fill="#fbf5f5" shape-rendering="crispEdges"/>
<rect x="294.00" y="424.43" width="18.60" height="4.68" fill="#fbf4f4" shape-rendering="crispEdges"/>
<rect x="312.30" y="424.43" width="18.60" height="4.68" fill="#fbf4f4" shape-rendering="crispEdges"/>
<rect x="330.60" y="424.43" width="18.60" height="4.68" fill="#f9f0f0" shape-rendering="crispEdges"/>
<rect x="348.90" y="424.43" width="18.60" height="4.68" fill="#fbf2f2" shape-rendering="crispEdges"/>
<rect x="367.20" y="424.43" width="18.60" height="4.68" fill="#aaaaaa" shape-rendering="crispEdges"/>
<rect x="294.00" y="428.81" width="18.60" height="3.80" fill="#fcf6f6" shape-rendering="crispEdges"/>
<rect x="312.30" y="428.81" width="18.60" height="3.80" fill="#fbf2f2" shape-rendering="crispEdges"/>
<rect x="330.60" y="428.81" width="18.60" height="3.80" fill="#fbf4f4" shape-rendering="crispEdges"/>
<rect x="348.90" y="428.81" width="18.60" height="3.80" fill="#fcf6f6" shape-rendering="crispEdges"/>
<rect x="367.20" y="428.81" width="18.60" height="3.80" fill="#aaaaaa" shape-rendering="crispEdges"/>
<rect x="294.00" y="432.31" width="18.60" height="4.68" fill="#fcf8f8" shape-rendering="crispEdges"/>
<rect x="312.30" y="432.31" width="18.60" height="4.68" fill="#fbf2f2" shape-rendering="crispEdges"/>
<rect x="330.60" y="432.31" width="18.60" height="4.68" fill="#f8eeee" shape-rendering="crispEdges"/>
<rect x="348.90" y="432.31" width="18.60" height="4.68" fill="#fcf8f8" shape-rendering="crispEdges"/>
<rect x="367.20" y="432.31" width="18.60" height="4.68" fill="#f8f0f0" shape-rendering="crispEdges"/>
<rect x="294.00" y="436.69" width="18.60" height="4.68" fill="#fcf8f8" shape-rendering="crispEdges"/>
<rect x="312.30" y="436.69" width="18.60" height="4.68" fill="#fcf6f6" shape-rendering="crispEdges"/>
<rect x="330.60" y="436.69" width="18.60" height="4.68" fill="#fcf6f6" shape-rendering="crispEdges"/>
<rect x="348.90" y="436.69" width="18.60" height="4.68" fill="#fcf8f8" shape-rendering="crispEdges"/>
<rect x="367.20" y="436.69" width="18.60" height="4.68" fill="#fcf8f8" shape-rendering="crispEdges"/>
<rect x="294.00" y="441.07" width="18.60" height="4.68" fill="#fcf8f8" shape-rendering="crispEdges"/>
<rect x="312.30" y="441.07" width="18.60" height="4.68" fill="#fcf8f8" shape-rendering="crispEdges"/>
<rect x="330.60" y="441.07" width="18.60" height="4.68" fill="#fdfafa" shape-rendering="crispEdges"/>
<rect x="348.90" y="441.07" width="18.60" height="4.68" fill="#fdfafa" shape-rendering="crispEdges"/>
<rect x="367.20" y="441.07" width="18.60" height="4.68" fill="#222222" shape-rendering="crispEdges"/>
<rect x="294.00" y="445.45" width="18.60" height="5.21" fill="#fdfafa" shape-rendering="crispEdges"/>
<rect x="312.30" y="445.45" width="18.60" height="5.21" fill="#fdfafa" shape-rendering="crispEdges"/>
<rect x="330.60" y="445.45" width="18.60" height="5.21" fill="#fdfafa" shape-rendering="crispEdges"/>
<rect x="348.90" y="445.45" width="18.60" height="5.21" fill="#fdfafa" shape-rendering="crispEdges"/>
<rect x="367.20" y="445.45" width="18.60" height="5.21" fill="#bbbbbb" shape-rendering="crispEdges"/>
<rect x="294.00" y="450.61" width="18.60" height="5.21" fill="#f8e8e8" shape-rendering="crispEdges"/>
<rect x="312.30" y="450.61" width="18.60" height="5.21" fill="#faf0f0" shape-rendering="crispEdges"/>
<rect x="330.60" y="450.61" width="18.60" height="5.21" fill="#fbf5f5" shape-rendering="crispEdges"/>
<rect x="348.90" y="450.61" width="18.60" height="5.21" fill="#f8eaea" shape-rendering="crispEdges"/>
<rect x="367.20" y="450.61" width="18.60" height="5.21" fill="#fafafa" shape-rendering="crispEdges"/>
<rect x="294.00" y="455.51" width="18.60" height="4.68" fill="#f8e6e6" shape-rendering="crispEdges"/>
<rect x="312.30" y="455.51" width="18.60" height="4.68" fill="#fbeeee" shape-rendering="crispEdges"/>
<rect x="330.60" y="455.51" width="18.60" height="4.68" fill="#444444" shape-rendering="crispEdges"/>
<rect x="348.90" y="455.51" width="18.60" height="4.68" fill="#fbf0f0" shape-rendering="crispEdges"/>
<rect x="367.20" y="455.51" width="18.60" height="4.68" fill="#f8eeee" shape-rendering="crispEdges"/>
<rect x="294.00" y="459.89" width="18.60" height="3.80" fill="#ffffff" shape-rendering="crispEdges"/>
<rect x="312.30" y="459.89" width="18.60" height="3.80" fill="#c8c8c8" shape-rendering="crispEdges"/>
<rect x="330.60" y="459.89" width="18.60" height="3.80" fill="#d5d5d5" shape-rendering="crispEdges"/>
<rect x="348.90" y="459.89" width="18.60" height="3.80" fill="#fbf4f4" shape-rendering="crispEdges"/>
<rect x="367.20" y="459.89" width="18.60" height="3.80" fill="#f5e0e0" shape-rendering="crispEdges"/>
<rect x="294.00" y="463.40" width="18.60" height="3.80" fill="#fcf6f6" shape-rendering="crispEdges"/>
<rect x="312.30" y="463.40" width="18.60" height="3.80" fill="#faf2f2" shape-rendering="crispEdges"/>
<rect x="330.60" y="463.40" width="18.60" height="3.80" fill="#fbf4f4" shape-rendering="crispEdges"/>
<rect x="348.90" y="463.40" width="18.60" height="3.80" fill="#fbf4f4" shape-rendering="crispEdges"/>
<rect x="367.20" y="463.40" width="18.60" height="3.80" fill="#fbf4f4" shape-rendering="crispEdges"/>
<rect x="294.00" y="466.90" width="18.60" height="5.56" fill="#fdfafa" shape-rendering="crispEdges"/>
<rect x="312.30" y="466.90" width="18.60" height="5.56" fill="#faf2f2" shape-rendering="crispEdges"/>
<rect x="330.60" y="466.90" width="18.60" height="5.56" fill="#f0c8c8" shape-rendering="crispEdges"/>
<rect x="348.90" y="466.90" width="18.60" height="5.56" fill="#f0c8c8" shape-rendering="crispEdges"/>
<rect x="367.20" y="466.90" width="18.60" height="5.56" fill="#f5e0e0" shape-rendering="crispEdges"/>
<rect x="294.00" y="472.15" width="18.60" height="4.33" fill="#fcf8f8" shape-rendering="crispEdges"/>
<rect x="312.30" y="472.15" width="18.60" height="4.33" fill="#faf2f2" shape-rendering="crispEdges"/>
<rect x="330.60" y="472.15" width="18.60" height="4.33" fill="#faf0f0" shape-rendering="crispEdges"/>
<rect x="348.90" y="472.15" width="18.60" height="4.33" fill="#faf0f0" shape-rendering="crispEdges"/>
<rect x="367.20" y="472.15" width="18.60" height="4.33" fill="#e0a0a0" shape-rendering="crispEdges"/>
<rect x="294.00" y="476.18" width="18.60" height="4.68" fill="#dddddd" shape-rendering="crispEdges"/>
<rect x="312.30" y="476.18" width="18.60" height="4.68" fill="#f8eaea" shape-rendering="crispEdges"/>
<rect x="330.60" y="476.18" width="18.60" height="4.68" fill="#f8eaea" shape-rendering="crispEdges"/>
<rect x="348.90" y="476.18" width="18.60" height="4.68" fill="#f8f0f0" shape-rendering="crispEdges"/>
<rect x="367.20" y="476.18" width="18.60" height="4.68" fill="#f5e6e6" shape-rendering="crispEdges"/>
<rect x="294.00" y="480.56" width="18.60" height="4.68" fill="#f4d6d6" shape-rendering="crispEdges"/>
<rect x="312.30" y="480.56" width="18.60" height="4.68" fill="#e0a0a0" shape-rendering="crispEdges"/>
<rect x="330.60" y="480.56" width="18.60" height="4.68" fill="#d88888" shape-rendering="crispEdges"/>
<rect x="348.90" y="480.56" width="18.60" height="4.68" fill="#c03030" shape-rendering="crispEdges"/>
<rect x="367.20" y="480.56" width="18.60" height="4.68" fill="#b83030" shape-rendering="crispEdges"/>
<rect x="294.00" y="484.94" width="18.60" height="4.15" fill="#bbbbbb" shape-rendering="crispEdges"/>
<rect x="312.30" y="484.94" width="18.60" height="4.15" fill="#666666" shape-rendering="crispEdges"/>
<rect x="330.60" y="484.94" width="18.60" height="4.15" fill="#fafafa" shape-rendering="crispEdges"/>
<rect x="348.90" y="484.94" width="18.60" height="4.15" fill="#f2d6d6" shape-rendering="crispEdges"/>
<rect x="367.20" y="484.94" width="18.60" height="4.15" fill="#f5e0e0" shape-rendering="crispEdges"/>
<rect x="294.00" y="488.80" width="18.60" height="4.15" fill="#bbbbbb" shape-rendering="crispEdges"/>
<rect x="312.30" y="488.80" width="18.60" height="4.15" fill="#aaaaaa" shape-rendering="crispEdges"/>
<rect x="330.60" y="488.80" width="18.60" height="4.15" fill="#cccccc" shape-rendering="crispEdges"/>
<rect x="348.90" y="488.80" width="18.60" height="4.15" fill="#f8eeee" shape-rendering="crispEdges"/>
<rect x="367.20" y="488.80" width="18.60" height="4.15" fill="#f7e6e6" shape-rendering="crispEdges"/>
<rect x="294.00" y="492.65" width="18.60" height="4.86" fill="#e8e8e8" shape-rendering="crispEdges"/>
<rect x="312.30" y="492.65" width="18.60" height="4.86" fill="#ffffff" shape-rendering="crispEdges"/>
<rect x="330.60" y="492.65" width="18.60" height="4.86" fill="#cccccc" shape-rendering="crispEdges"/>
<rect x="348.90" y="492.65" width="18.60" height="4.86" fill="#999999" shape-rendering="crispEdges"/>
<rect x="367.20" y="492.65" width="18.60" height="4.86" fill="#555555" shape-rendering="crispEdges"/>
<rect x="294.00" y="497.21" width="18.60" height="4.50" fill="#777777" shape-rendering="crispEdges"/>
<rect x="312.30" y="497.21" width="18.60" height="4.50" fill="#ffffff" shape-rendering="crispEdges"/>
<rect x="330.60" y="497.21" width="18.60" height="4.50" fill="#fcfcfc" shape-rendering="crispEdges"/>
<rect x="348.90" y="497.21" width="18.60" height="4.50" fill="#fcfcfc" shape-rendering="crispEdges"/>
<rect x="367.20" y="497.21" width="18.60" height="4.50" fill="#e8e8e8" shape-rendering="crispEdges"/>
<rect x="294.00" y="501.41" width="18.60" height="4.33" fill="#888888" shape-rendering="crispEdges"/>
<rect x="312.30" y="501.41" width="18.60" height="4.33" fill="#777777" shape-rendering="crispEdges"/>
<rect x="330.60" y="501.41" width="18.60" height="4.33" fill="#777777" shape-rendering="crispEdges"/>
<rect x="348.90" y="501.41" width="18.60" height="4.33" fill="#666666" shape-rendering="crispEdges"/>
<rect x="367.20" y="501.41" width="18.60" height="4.33" fill="#f5e0e0" shape-rendering="crispEdges"/>
<rect x="294.00" y="505.44" width="18.60" height="4.68" fill="#777777" shape-rendering="crispEdges"/>
<rect x="312.30" y="505.44" width="18.60" height="4.68" fill="#666666" shape-rendering="crispEdges"/>
<rect x="330.60" y="505.44" width="18.60" height="4.68" fill="#555555" shape-rendering="crispEdges"/>
<rect x="348.90" y="505.44" width="18.60" height="4.68" fill="#666666" shape-rendering="crispEdges"/>
<rect x="367.20" y="505.44" width="18.60" height="4.68" fill="#fafafa" shape-rendering="crispEdges"/>
<rect x="294.00" y="509.82" width="18.60" height="4.68" fill="#777777" shape-rendering="crispEdges"/>
<rect x="312.30" y="509.82" width="18.60" height="4.68" fill="#2a2a2a" shape-rendering="crispEdges"/>
<rect x="330.60" y="509.82" width="18.60" height="4.68" fill="#aaaaaa" shape-rendering="crispEdges"/>
<rect x="348.90" y="509.82" width="18.60" height="4.68" fill="#444444" shape-rendering="crispEdges"/>
<rect x="367.20" y="509.82" width="18.60" height="4.68" fill="#3a3a3a" shape-rendering="crispEdges"/>
<rect x="294.00" y="514.20" width="18.60" height="5.56" fill="#888888" shape-rendering="crispEdges"/>
<rect x="312.30" y="514.20" width="18.60" height="5.56" fill="#111111" shape-rendering="crispEdges"/>
<rect x="330.60" y="514.20" width="18.60" height="5.56" fill="#555555" shape-rendering="crispEdges"/>
<rect x="348.90" y="514.20" width="18.60" height="5.56" fill="#888888" shape-rendering="crispEdges"/>
<rect x="367.20" y="514.20" width="18.60" height="5.56" fill="#444444" shape-rendering="crispEdges"/>
<rect x="294.00" y="519.38" width="18.60" height="4.68" fill="#dddddd" shape-rendering="crispEdges"/>
<rect x="312.30" y="519.38" width="18.60" height="4.68" fill="#999999" shape-rendering="crispEdges"/>
<rect x="330.60" y="519.38" width="18.60" height="4.68" fill="#999999" shape-rendering="crispEdges"/>
<rect x="348.90" y="519.38" width="18.60" height="4.68" fill="#999999" shape-rendering="crispEdges"/>
<rect x="367.20" y="519.38" width="18.60" height="4.68" fill="#999999" shape-rendering="crispEdges"/>
<rect x="294.00" y="523.76" width="18.60" height="4.68" fill="#888888" shape-rendering="crispEdges"/>
<rect x="312.30" y="523.76" width="18.60" height="4.68" fill="#666666" shape-rendering="crispEdges"/>
<rect x="330.60" y="523.76" width="18.60" height="4.68" fill="#444444" shape-rendering="crispEdges"/>
<rect x="348.90" y="523.76" width="18.60" height="4.68" fill="#aaaaaa" shape-rendering="crispEdges"/>
<rect x="367.20" y="523.76" width="18.60" height="4.68" fill="#f0f0f0" shape-rendering="crispEdges"/>
<rect x="294.00" y="528.14" width="18.60" height="4.68" fill="#555555" shape-rendering="crispEdges"/>
<rect x="312.30" y="528.14" width="18.60" height="4.68" fill="#666666" shape-rendering="crispEdges"/>
<rect x="330.60" y="528.14" width="18.60" height="4.68" fill="#444444" shape-rendering="crispEdges"/>
<rect x="348.90" y="528.14" width="18.60" height="4.68" fill="#bbbbbb" shape-rendering="crispEdges"/>
<rect x="367.20" y="528.14" width="18.60" height="4.68" fill="#fafafa" shape-rendering="crispEdges"/>
<rect x="294.00" y="532.52" width="18.60" height="4.68" fill="#555555" shape-rendering="crispEdges"/>
<rect x="312.30" y="532.52" width="18.60" height="4.68" fill="#222222" shape-rendering="crispEdges"/>
<rect x="330.60" y="532.52" width="18.60" height="4.68" fill="#888888" shape-rendering="crispEdges"/>
<rect x="348.90" y="532.52" width="18.60" height="4.68" fill="#aaaaaa" shape-rendering="crispEdges"/>
<rect x="367.20" y="532.52" width="18.60" height="4.68" fill="#fafafa" shape-rendering="crispEdges"/>
<rect x="294.00" y="536.90" width="18.60" height="4.33" fill="#777777" shape-rendering="crispEdges"/>
<rect x="312.30" y="536.90" width="18.60" height="4.33" fill="#dddddd" shape-rendering="crispEdges"/>
<rect x="330.60" y="536.90" width="18.60" height="4.33" fill="#e0a0a0" shape-rendering="crispEdges"/>
<rect x="348.90" y="536.90" width="18.60" height="4.33" fill="#f0c8c8" shape-rendering="crispEdges"/>
<rect x="367.20" y="536.90" width="18.60" height="4.33" fill="#222222" shape-rendering="crispEdges"/>
<rect x="294.00" y="540.93" width="18.60" height="4.50" fill="#999999" shape-rendering="crispEdges"/>
<rect x="312.30" y="540.93" width="18.60" height="4.50" fill="#ffffff" shape-rendering="crispEdges"/>
<rect x="330.60" y="540.93" width="18.60" height="4.50" fill="#f0f0f0" shape-rendering="crispEdges"/>
<rect x="348.90" y="540.93" width="18.60" height="4.50" fill="#f0c0c0" shape-rendering="crispEdges"/>
<rect x="367.20" y="540.93" width="18.60" height="4.50" fill="#aa0000" shape-rendering="crispEdges"/>
<rect x="294.00" y="545.13" width="18.60" height="4.33" fill="#999999" shape-rendering="crispEdges"/>
<rect x="312.30" y="545.13" width="18.60" height="4.33" fill="#aaaaaa" shape-rendering="crispEdges"/>
<rect x="330.60" y="545.13" width="18.60" height="4.33" fill="#999999" shape-rendering="crispEdges"/>
<rect x="348.90" y="545.13" width="18.60" height="4.33" fill="#dddddd" shape-rendering="crispEdges"/>
<rect x="367.20" y="545.13" width="18.60" height="4.33" fill="#f8f0f0" shape-rendering="crispEdges"/>
<rect x="294.00" y="549.16" width="18.60" height="4.68" fill="#cccccc" shape-rendering="crispEdges"/>
<rect x="312.30" y="549.16" width="18.60" height="4.68" fill="#f8eeee" shape-rendering="crispEdges"/>
<rect x="330.60" y="549.16" width="18.60" height="4.68" fill="#e8b0b0" shape-rendering="crispEdges"/>
<rect x="348.90" y="549.16" width="18.60" height="4.68" fill="#cc5555" shape-rendering="crispEdges"/>
<rect x="367.20" y="549.16" width="18.60" height="4.68" fill="#cc5555" shape-rendering="crispEdges"/>
<rect x="294.00" y="553.54" width="18.60" height="4.68" fill="#ffffff" shape-rendering="crispEdges"/>
<rect x="312.30" y="553.54" width="18.60" height="4.68" fill="#eeeeee" shape-rendering="crispEdges"/>
<rect x="330.60" y="553.54" width="18.60" height="4.68" fill="#f8eeee" shape-rendering="crispEdges"/>
<rect x="348.90" y="553.54" width="18.60" height="4.68" fill="#d88888" shape-rendering="crispEdges"/>
<rect x="367.20" y="553.54" width="18.60" height="4.68" fill="#e0a0a0" shape-rendering="crispEdges"/>
<rect x="294.00" y="557.92" width="18.60" height="4.33" fill="#ffffff" shape-rendering="crispEdges"/>
<rect x="312.30" y="557.92" width="18.60" height="4.33" fill="#dddddd" shape-rendering="crispEdges"/>
<rect x="330.60" y="557.92" width="18.60" height="4.33" fill="#cccccc" shape-rendering="crispEdges"/>
<rect x="348.90" y="557.92" width="18.60" height="4.33" fill="#f0d0d0" shape-rendering="crispEdges"/>
<rect x="367.20" y="557.92" width="18.60" height="4.33" fill="#f5e6e6" shape-rendering="crispEdges"/>
<rect x="294.00" y="561.95" width="18.60" height="4.50" fill="#fafafa" shape-rendering="crispEdges"/>
<rect x="312.30" y="561.95" width="18.60" height="4.50" fill="#f5dddd" shape-rendering="crispEdges"/>
<rect x="330.60" y="561.95" width="18.60" height="4.50" fill="#eeeeee" shape-rendering="crispEdges"/>
<rect x="348.90" y="561.95" width="18.60" height="4.50" fill="#f8f0f0" shape-rendering="crispEdges"/>
<rect x="367.20" y="561.95" width="18.60" height="4.50" fill="#fafafa" shape-rendering="crispEdges"/>
<rect x="294.00" y="566.16" width="18.60" height="4.86" fill="#d07070" shape-rendering="crispEdges"/>
<rect x="312.30" y="566.16" width="18.60" height="4.86" fill="#f5e6e6" shape-rendering="crispEdges"/>
<rect x="330.60" y="566.16" width="18.60" height="4.86" fill="#bbbbbb" shape-rendering="crispEdges"/>
<rect x="348.90" y="566.16" width="18.60" height="4.86" fill="#fafafa" shape-rendering="crispEdges"/>
<rect x="367.20" y="566.16" width="18.60" height="4.86" fill="#f5dcdc" shape-rendering="crispEdges"/>
<rect x="294.00" y="570.71" width="18.60" height="4.50" fill="#aa0000" shape-rendering="crispEdges"/>
<rect x="312.30" y="570.71" width="18.60" height="4.50" fill="#aa0000" shape-rendering="crispEdges"/>
<rect x="330.60" y="570.71" width="18.60" height="4.50" fill="#cc6666" shape-rendering="crispEdges"/>
<rect x="348.90" y="570.71" width="18.60" height="4.50" fill="#aa0000" shape-rendering="crispEdges"/>
<rect x="367.20" y="570.71" width="18.60" height="4.50" fill="#aa0000" shape-rendering="crispEdges"/>
<rect x="294.00" y="574.92" width="18.60" height="4.33" fill="#aa0000" shape-rendering="crispEdges"/>
<rect x="312.30" y="574.92" width="18.60" height="4.33" fill="#aa0000" shape-rendering="crispEdges"/>
<rect x="330.60" y="574.92" width="18.60" height="4.33" fill="#aa0000" shape-rendering="crispEdges"/>
<rect x="348.90" y="574.92" width="18.60" height="4.33" fill="#aa0000" shape-rendering="crispEdges"/>
<rect x="367.20" y="574.92" width="18.60" height="4.33" fill="#aa0000" shape-rendering="crispEdges"/>
<rect x="294.00" y="578.95" width="18.60" height="4.33" fill="#ffffff" shape-rendering="crispEdges"/>
<rect x="312.30" y="578.95" width="18.60" height="4.33" fill="#ffffff" shape-rendering="crispEdges"/>
<rect x="330.60" y="578.95" width="18.60" height="4.33" fill="#eeeeee" shape-rendering="crispEdges"/>
<rect x="348.90" y="578.95" width="18.60" height="4.33" fill="#d07070" shape-rendering="crispEdges"/>
<rect x="367.20" y="578.95" width="18.60" height="4.33" fill="#aa0000" shape-rendering="crispEdges"/>
<rect x="294.00" y="582.97" width="18.60" height="4.50" fill="#ffffff" shape-rendering="crispEdges"/>
<rect x="312.30" y="582.97" width="18.60" height="4.50" fill="#cccccc" shape-rendering="crispEdges"/>
<rect x="330.60" y="582.97" width="18.60" height="4.50" fill="#fafafa" shape-rendering="crispEdges"/>
<rect x="348.90" y="582.97" width="18.60" height="4.50" fill="#f8e4e4" shape-rendering="crispEdges"/>
<rect x="367.20" y="582.97" width="18.60" height="4.50" fill="#f8eeee" shape-rendering="crispEdges"/>
<rect x="294.0" y="382.6" width="91.5" height="67.69999999999999" fill="none" stroke="#000" stroke-width="1"/>
<rect x="294.0" y="450.3" width="91.5" height="69.19999999999999" fill="none" stroke="#000" stroke-width="1"/>
<rect x="294.0" y="519.5" width="91.5" height="67.5" fill="none" stroke="#000" stroke-width="1"/>
<line x1="291.00" y1="383.50" x2="294.00" y2="383.50" stroke="#000" stroke-width="0.8"/>
<line x1="291.00" y1="386.74" x2="294.00" y2="386.74" stroke="#000" stroke-width="0.8"/>
<line x1="291.00" y1="389.98" x2="294.00" y2="389.98" stroke="#000" stroke-width="0.8"/>
<line x1="291.00" y1="393.22" x2="294.00" y2="393.22" stroke="#000" stroke-width="0.8"/>
<line x1="291.00" y1="396.46" x2="294.00" y2="396.46" stroke="#000" stroke-width="0.8"/>
<line x1="291.00" y1="399.70" x2="294.00" y2="399.70" stroke="#000" stroke-width="0.8"/>
<line x1="291.00" y1="402.94" x2="294.00" y2="402.94" stroke="#000" stroke-width="0.8"/>
<line x1="291.00" y1="406.18" x2="294.00" y2="406.18" stroke="#000" stroke-width="0.8"/>
<line x1="291.00" y1="409.42" x2="294.00" y2="409.42" stroke="#000" stroke-width="0.8"/>
<line x1="291.00" y1="412.66" x2="294.00" y2="412.66" stroke="#000" stroke-width="0.8"/>
<line x1="291.00" y1="415.90" x2="294.00" y2="415.90" stroke="#000" stroke-width="0.8"/>
<line x1="291.00" y1="419.14" x2="294.00" y2="419.14" stroke="#000" stroke-width="0.8"/>
<line x1="291.00" y1="422.38" x2="294.00" y2="422.38" stroke="#000" stroke-width="0.8"/>
<line x1="291.00" y1="425.62" x2="294.00" y2="425.62" stroke="#000" stroke-width="0.8"/>
<line x1="291.00" y1="428.86" x2="294.00" y2="428.86" stroke="#000" stroke-width="0.8"/>
<line x1="291.00" y1="432.10" x2="294.00" y2="432.10" stroke="#000" stroke-width="0.8"/>
<line x1="291.00" y1="435.34" x2="294.00" y2="435.34" stroke="#000" stroke-width="0.8"/>
<line x1="291.00" y1="438.58" x2="294.00" y2="438.58" stroke="#000" stroke-width="0.8"/>
<line x1="291.00" y1="441.82" x2="294.00" y2="441.82" stroke="#000" stroke-width="0.8"/>
<line x1="291.00" y1="445.06" x2="294.00" y2="445.06" stroke="#000" stroke-width="0.8"/>
<line x1="291.00" y1="448.30" x2="294.00" y2="448.30" stroke="#000" stroke-width="0.8"/>
<line x1="291.00" y1="451.54" x2="294.00" y2="451.54" stroke="#000" stroke-width="0.8"/>
<line x1="291.00" y1="454.78" x2="294.00" y2="454.78" stroke="#000" stroke-width="0.8"/>
<line x1="291.00" y1="458.02" x2="294.00" y2="458.02" stroke="#000" stroke-width="0.8"/>
<line x1="291.00" y1="461.26" x2="294.00" y2="461.26" stroke="#000" stroke-width="0.8"/>
<line x1="291.00" y1="464.50" x2="294.00" y2="464.50" stroke="#000" stroke-width="0.8"/>
<line x1="291.00" y1="467.74" x2="294.00" y2="467.74" stroke="#000" stroke-width="0.8"/>
<line x1="291.00" y1="470.98" x2="294.00" y2="470.98" stroke="#000" stroke-width="0.8"/>
<line x1="291.00" y1="474.22" x2="294.00" y2="474.22" stroke="#000" stroke-width="0.8"/>
<line x1="291.00" y1="477.46" x2="294.00" y2="477.46" stroke="#000" stroke-width="0.8"/>
<line x1="291.00" y1="480.70" x2="294.00" y2="480.70" stroke="#000" stroke-width="0.8"/>
<line x1="291.00" y1="483.94" x2="294.00" y2="483.94" stroke="#000" stroke-width="0.8"/>
<line x1="291.00" y1="487.18" x2="294.00" y2="487.18" stroke="#000" stroke-width="0.8"/>
<line x1="291.00" y1="490.42" x2="294.00" y2="490.42" stroke="#000" stroke-width="0.8"/>
<line x1="291.00" y1="493.66" x2="294.00" y2="493.66" stroke="#000" stroke-width="0.8"/>
<line x1="291.00" y1="496.90" x2="294.00" y2="496.90" stroke="#000" stroke-width="0.8"/>
<line x1="291.00" y1="500.14" x2="294.00" y2="500.14" stroke="#000" stroke-width="0.8"/>
<line x1="291.00" y1="503.38" x2="294.00" y2="503.38" stroke="#000" stroke-width="0.8"/>
<line x1="291.00" y1="506.62" x2="294.00" y2="506.62" stroke="#000" stroke-width="0.8"/>
<line x1="291.00" y1="509.86" x2="294.00" y2="509.86" stroke="#000" stroke-width="0.8"/>
<line x1="291.00" y1="513.10" x2="294.00" y2="513.10" stroke="#000" stroke-width="0.8"/>
<line x1="291.00" y1="516.34" x2="294.00" y2="516.34" stroke="#000" stroke-width="0.8"/>
<line x1="291.00" y1="519.58" x2="294.00" y2="519.58" stroke="#000" stroke-width="0.8"/>
<line x1="291.00" y1="522.82" x2="294.00" y2="522.82" stroke="#000" stroke-width="0.8"/>
<line x1="291.00" y1="526.06" x2="294.00" y2="526.06" stroke="#000" stroke-width="0.8"/>
<line x1="291.00" y1="529.30" x2="294.00" y2="529.30" stroke="#000" stroke-width="0.8"/>
<line x1="291.00" y1="532.54" x2="294.00" y2="532.54" stroke="#000" stroke-width="0.8"/>
<line x1="291.00" y1="535.78" x2="294.00" y2="535.78" stroke="#000" stroke-width="0.8"/>
<line x1="291.00" y1="539.02" x2="294.00" y2="539.02" stroke="#000" stroke-width="0.8"/>
<line x1="291.00" y1="542.26" x2="294.00" y2="542.26" stroke="#000" stroke-width="0.8"/>
<line x1="291.00" y1="545.50" x2="294.00" y2="545.50" stroke="#000" stroke-width="0.8"/>
<line x1="291.00" y1="548.74" x2="294.00" y2="548.74" stroke="#000" stroke-width="0.8"/>
<line x1="291.00" y1="551.98" x2="294.00" y2="551.98" stroke="#000" stroke-width="0.8"/>
<line x1="291.00" y1="555.22" x2="294.00" y2="555.22" stroke="#000" stroke-width="0.8"/>
<line x1="291.00" y1="558.46" x2="294.00" y2="558.46" stroke="#000" stroke-width="0.8"/>
<line x1="291.00" y1="561.70" x2="294.00" y2="561.70" stroke="#000" stroke-width="0.8"/>
<line x1="291.00" y1="564.94" x2="294.00" y2="564.94" stroke="#000" stroke-width="0.8"/>
<line x1="291.00" y1="568.18" x2="294.00" y2="568.18" stroke="#000" stroke-width="0.8"/>
<line x1="291.00" y1="571.42" x2="294.00" y2="571.42" stroke="#000" stroke-width="0.8"/>
<line x1="291.00" y1="574.66" x2="294.00" y2="574.66" stroke="#000" stroke-width="0.8"/>
<line x1="291.00" y1="577.90" x2="294.00" y2="577.90" stroke="#000" stroke-width="0.8"/>
<line x1="291.00" y1="581.14" x2="294.00" y2="581.14" stroke="#000" stroke-width="0.8"/>
<line x1="291.00" y1="584.38" x2="294.00" y2="584.38" stroke="#000" stroke-width="0.8"/>
<line x1="285.50" y1="383.60" x2="285.50" y2="448.30" stroke="#000" stroke-width="1"/>
<line x1="285.50" y1="453.20" x2="285.50" y2="518.00" stroke="#000" stroke-width="1"/>
<line x1="285.50" y1="522.20" x2="285.50" y2="586.00" stroke="#000" stroke-width="1"/>
<text x="281.00" y="420.30" font-size="12.4" text-anchor="end">2h</text>
<text x="281.00" y="490.00" font-size="12.4" text-anchor="end">4h</text>
<text x="281.00" y="559.40" font-size="12.4" text-anchor="end">6h</text>
<text x="337.5" y="376.5" font-size="12.4" text-anchor="middle"><tspan font-style="italic">Txnip/Actb</tspan> mRNA</text>
<defs><linearGradient id="gC" x1="0" y1="0" x2="0" y2="1"><stop offset="0" stop-color="#a00000"/><stop offset="1" stop-color="#ffffff"/></linearGradient><linearGradient id="gG" x1="0" y1="0" x2="0" y2="1"><stop offset="0" stop-color="#b00000"/><stop offset="0.5" stop-color="#ffffff"/><stop offset="1" stop-color="#000000"/></linearGradient></defs>
<rect x="389.8" y="384.2" width="9" height="39.2" fill="url(#gC)" stroke="#000" stroke-width="0.9"/>
<line x1="389.8" y1="392" x2="398.8" y2="392" stroke="#000" stroke-width="0.9" stroke-dasharray="3,2.2"/>
<line x1="389.8" y1="400.7" x2="398.8" y2="400.7" stroke="#000" stroke-width="0.9" stroke-dasharray="3,2.2"/>
<line x1="389.8" y1="409.5" x2="398.8" y2="409.5" stroke="#000" stroke-width="0.9" stroke-dasharray="3,2.2"/>
<line x1="389.8" y1="417" x2="398.8" y2="417" stroke="#000" stroke-width="0.9" stroke-dasharray="3,2.2"/>
<text x="407.60" y="388.80" font-size="9.3">10</text>
<text x="407.60" y="396.20" font-size="9.3">8</text>
<text x="407.60" y="404.40" font-size="9.3">6</text>
<text x="407.60" y="412.90" font-size="9.3">4</text>
<text x="407.60" y="421.10" font-size="9.3">2</text>
<polygon points="302.8,598.8 380.8,591.5 380.8,598.8" fill="#000"/>
<text x="338.70" y="611.00" font-size="12.45" text-anchor="middle">Concentrations</text>
<defs><filter id="bl1" x="-20%" y="-50%" width="140%" height="200%"><feGaussianBlur stdDeviation="0.9"/></filter><filter id="bl2" x="-20%" y="-50%" width="140%" height="200%"><feGaussianBlur stdDeviation="0.7"/></filter><linearGradient id="bandT" x1="0" y1="0" x2="0" y2="1"><stop offset="0" stop-color="#000" stop-opacity="0.7"/><stop offset="0.45" stop-color="#000" stop-opacity="0.75"/><stop offset="1" stop-color="#000" stop-opacity="0.2"/></linearGradient></defs>
<text x="429.50" y="383.20" font-size="12.4">Molecules:</text>
<text x="496.00" y="383.20" font-size="12.4" text-anchor="middle">-</text>
<text x="515.80" y="383.20" font-size="12.4" text-anchor="middle">F</text>
<text x="535.60" y="383.20" font-size="12.4" text-anchor="middle">H</text>
<text x="555.40" y="383.20" font-size="12.4" text-anchor="middle">I</text>
<text x="575.20" y="383.20" font-size="12.4" text-anchor="middle">J</text>
<text x="595.00" y="383.20" font-size="12.4" text-anchor="middle">K</text>
<text x="614.80" y="383.20" font-size="12.4" text-anchor="middle">L</text>
<text x="634.60" y="383.20" font-size="12.4" text-anchor="middle">M</text>
<text x="654.40" y="383.20" font-size="12.4" text-anchor="middle">N</text>
<text x="478.50" y="399.00" font-size="12.3" text-anchor="end">TXNIP</text>
<text x="478.50" y="416.50" font-size="12.3" text-anchor="end">β-actin</text>
<rect x="482.00" y="386.80" width="181.00" height="15.40" fill="#e4e4e4"/>
<g filter="url(#bl1)">
<rect x="487.00" y="389.4" width="18.0" height="10.4" rx="2" fill="url(#bandT)" opacity="0.30"/>
<rect x="506.80" y="389.4" width="18.0" height="10.4" rx="2" fill="url(#bandT)" opacity="0.78"/>
<rect x="526.60" y="389.4" width="18.0" height="10.4" rx="2" fill="url(#bandT)" opacity="0.95"/>
<rect x="546.40" y="389.4" width="18.0" height="10.4" rx="2" fill="url(#bandT)" opacity="0.80"/>
<rect x="566.20" y="389.4" width="18.0" height="10.4" rx="2" fill="url(#bandT)" opacity="0.95"/>
<rect x="586.00" y="389.4" width="18.0" height="10.4" rx="2" fill="url(#bandT)" opacity="0.70"/>
<rect x="605.80" y="389.4" width="18.0" height="10.4" rx="2" fill="url(#bandT)" opacity="0.72"/>
<rect x="625.60" y="389.4" width="18.0" height="10.4" rx="2" fill="url(#bandT)" opacity="0.76"/>
<rect x="645.40" y="389.4" width="18.0" height="10.4" rx="2" fill="url(#bandT)" opacity="0.90"/>
</g>
<rect x="482" y="386.8" width="181" height="15.4" fill="none" stroke="#222" stroke-width="1.3"/>
<rect x="482.00" y="404.60" width="181.00" height="15.60" fill="#e2e2e2"/>
<g filter="url(#bl2)">
<rect x="486.40" y="411.5" width="19.2" height="4.4" rx="4.5" ry="2.2" fill="#000"/>
<rect x="506.20" y="411.5" width="19.2" height="4.4" rx="4.5" ry="2.2" fill="#000"/>
<rect x="526.00" y="411.5" width="19.2" height="4.4" rx="4.5" ry="2.2" fill="#000"/>
<rect x="545.80" y="411.5" width="19.2" height="4.4" rx="4.5" ry="2.2" fill="#000"/>
<rect x="565.60" y="411.5" width="19.2" height="4.4" rx="4.5" ry="2.2" fill="#000"/>
<rect x="585.40" y="411.5" width="19.2" height="4.4" rx="4.5" ry="2.2" fill="#000"/>
<rect x="605.20" y="411.5" width="19.2" height="4.4" rx="4.5" ry="2.2" fill="#000"/>
<rect x="625.00" y="411.5" width="19.2" height="4.4" rx="4.5" ry="2.2" fill="#000"/>
<rect x="644.80" y="411.5" width="19.2" height="4.4" rx="4.5" ry="2.2" fill="#000"/>
</g>
<rect x="482" y="404.6" width="181" height="15.6" fill="none" stroke="#222" stroke-width="1.3"/>
<line x1="665.50" y1="394.60" x2="668.80" y2="394.60" stroke="#000" stroke-width="1"/>
<line x1="665.50" y1="413.00" x2="668.80" y2="413.00" stroke="#000" stroke-width="1"/>
<text x="672.00" y="399.00" font-size="12.3">55</text>
<text x="672.00" y="417.40" font-size="12.3">42</text>
<line x1="477.70" y1="448.20" x2="477.70" y2="572.20" stroke="#000" stroke-width="1.2"/>
<line x1="473.20" y1="572.20" x2="477.70" y2="572.20" stroke="#000" stroke-width="1.1"/>
<text x="471.30" y="576.30" font-size="11.5" text-anchor="end">0</text>
<line x1="473.20" y1="520.50" x2="477.70" y2="520.50" stroke="#000" stroke-width="1.1"/>
<text x="471.30" y="524.60" font-size="11.5" text-anchor="end">50</text>
<line x1="473.20" y1="468.80" x2="477.70" y2="468.80" stroke="#000" stroke-width="1.1"/>
<text x="471.30" y="472.90" font-size="11.5" text-anchor="end">100</text>
<text x="444.0" y="510.6" font-size="11.6" text-anchor="middle" transform="rotate(-90 444.0 510.6)"><tspan font-style="italic">Cxcl10/Actb</tspan> mRNA</text>
<line x1="477.7" y1="566.3" x2="670" y2="566.3" stroke="#000" stroke-width="0.9" stroke-dasharray="1.6,1.8"/>
<circle cx="482.20" cy="571.17" r="2.2" fill="#8a8a8a"/>
<circle cx="485.80" cy="570.65" r="2.2" fill="#8a8a8a"/>
<circle cx="482.20" cy="571.68" r="2.2" fill="#8a8a8a"/>
<rect x="491.10" y="568.27" width="7.00" height="3.93" fill="#000"/>
<circle cx="493.10" cy="566.00" r="2.2" fill="#8a8a8a"/>
<circle cx="496.10" cy="567.03" r="2.2" fill="#8a8a8a"/>
<circle cx="493.10" cy="564.96" r="2.2" fill="#8a8a8a"/>
<circle cx="496.10" cy="567.55" r="2.2" fill="#8a8a8a"/>
<rect x="501.70" y="529.81" width="7.00" height="42.39" fill="#a80000"/>
<circle cx="504.60" cy="518.43" r="2.2" fill="#7a0000"/>
<circle cx="505.80" cy="519.47" r="2.2" fill="#7a0000"/>
<circle cx="504.60" cy="523.60" r="2.2" fill="#7a0000"/>
<circle cx="505.80" cy="527.74" r="2.2" fill="#7a0000"/>
<circle cx="504.60" cy="529.81" r="2.2" fill="#7a0000"/>
<circle cx="505.80" cy="545.32" r="2.2" fill="#7a0000"/>
<circle cx="504.60" cy="544.80" r="2.2" fill="#7a0000"/>
<rect x="512.30" y="525.67" width="7.00" height="46.53" fill="#a80000"/>
<circle cx="515.20" cy="522.05" r="2.2" fill="#7a0000"/>
<circle cx="516.40" cy="525.67" r="2.2" fill="#7a0000"/>
<circle cx="515.20" cy="526.70" r="2.2" fill="#7a0000"/>
<circle cx="516.40" cy="529.81" r="2.2" fill="#7a0000"/>
<circle cx="515.20" cy="533.94" r="2.2" fill="#7a0000"/>
<rect x="523.10" y="567.03" width="7.00" height="5.17" fill="#000"/>
<circle cx="525.10" cy="563.93" r="2.2" fill="#8a8a8a"/>
<circle cx="528.10" cy="564.45" r="2.2" fill="#8a8a8a"/>
<circle cx="525.10" cy="565.48" r="2.2" fill="#8a8a8a"/>
<circle cx="528.10" cy="564.96" r="2.2" fill="#8a8a8a"/>
<rect x="533.50" y="566.51" width="7.00" height="5.69" fill="#000"/>
<circle cx="535.50" cy="562.89" r="2.2" fill="#8a8a8a"/>
<circle cx="538.50" cy="563.93" r="2.2" fill="#8a8a8a"/>
<circle cx="535.50" cy="564.96" r="2.2" fill="#8a8a8a"/>
<circle cx="538.50" cy="563.41" r="2.2" fill="#8a8a8a"/>
<rect x="544.10" y="552.55" width="7.00" height="19.65" fill="#a80000"/>
<circle cx="547.00" cy="549.45" r="2.2" fill="#7a0000"/>
<circle cx="548.20" cy="551.52" r="2.2" fill="#7a0000"/>
<circle cx="547.00" cy="553.59" r="2.2" fill="#7a0000"/>
<circle cx="548.20" cy="554.62" r="2.2" fill="#7a0000"/>
<rect x="554.50" y="556.17" width="7.00" height="16.03" fill="#a80000"/>
<circle cx="557.40" cy="549.45" r="2.2" fill="#7a0000"/>
<circle cx="558.60" cy="554.62" r="2.2" fill="#7a0000"/>
<circle cx="557.40" cy="556.69" r="2.2" fill="#7a0000"/>
<circle cx="558.60" cy="557.72" r="2.2" fill="#7a0000"/>
<rect x="564.50" y="566.00" width="7.00" height="6.20" fill="#000"/>
<circle cx="566.50" cy="560.83" r="2.2" fill="#8a8a8a"/>
<circle cx="569.50" cy="562.89" r="2.2" fill="#8a8a8a"/>
<circle cx="566.50" cy="563.93" r="2.2" fill="#8a8a8a"/>
<circle cx="569.50" cy="564.96" r="2.2" fill="#8a8a8a"/>
<circle cx="566.50" cy="561.86" r="2.2" fill="#8a8a8a"/>
<rect x="575.50" y="557.21" width="7.00" height="14.99" fill="#a80000"/>
<circle cx="578.40" cy="556.17" r="2.2" fill="#7a0000"/>
<circle cx="579.60" cy="557.72" r="2.2" fill="#7a0000"/>
<circle cx="578.40" cy="559.28" r="2.2" fill="#7a0000"/>
<circle cx="579.60" cy="559.79" r="2.2" fill="#7a0000"/>
<rect x="585.90" y="567.03" width="7.00" height="5.17" fill="#000"/>
<circle cx="587.90" cy="564.96" r="2.2" fill="#8a8a8a"/>
<circle cx="590.90" cy="565.48" r="2.2" fill="#8a8a8a"/>
<circle cx="587.90" cy="566.00" r="2.2" fill="#8a8a8a"/>
<circle cx="590.90" cy="566.51" r="2.2" fill="#8a8a8a"/>
<rect x="596.30" y="567.03" width="7.00" height="5.17" fill="#000"/>
<circle cx="598.30" cy="563.93" r="2.2" fill="#8a8a8a"/>
<circle cx="601.30" cy="564.45" r="2.2" fill="#8a8a8a"/>
<circle cx="598.30" cy="566.00" r="2.2" fill="#8a8a8a"/>
<circle cx="601.30" cy="564.96" r="2.2" fill="#8a8a8a"/>
<rect x="607.10" y="567.55" width="7.00" height="4.65" fill="#000"/>
<circle cx="609.10" cy="564.96" r="2.2" fill="#8a8a8a"/>
<circle cx="612.10" cy="566.00" r="2.2" fill="#8a8a8a"/>
<circle cx="609.10" cy="566.51" r="2.2" fill="#8a8a8a"/>
<circle cx="612.10" cy="565.48" r="2.2" fill="#8a8a8a"/>
<line x1="621.20" y1="548.42" x2="621.20" y2="541.18" stroke="#a00000" stroke-width="1.1"/>
<line x1="619.40" y1="541.18" x2="623.00" y2="541.18" stroke="#a00000" stroke-width="1.1"/>
<rect x="617.70" y="548.42" width="7.00" height="23.78" fill="#a80000"/>
<circle cx="620.60" cy="531.87" r="2.2" fill="#7a0000"/>
<circle cx="621.80" cy="536.01" r="2.2" fill="#7a0000"/>
<circle cx="620.60" cy="540.15" r="2.2" fill="#7a0000"/>
<circle cx="621.80" cy="562.89" r="2.2" fill="#7a0000"/>
<circle cx="620.60" cy="563.93" r="2.2" fill="#7a0000"/>
<rect x="628.10" y="567.55" width="7.00" height="4.65" fill="#000"/>
<circle cx="630.10" cy="564.96" r="2.2" fill="#8a8a8a"/>
<circle cx="633.10" cy="566.00" r="2.2" fill="#8a8a8a"/>
<circle cx="630.10" cy="567.03" r="2.2" fill="#8a8a8a"/>
<circle cx="633.10" cy="565.48" r="2.2" fill="#8a8a8a"/>
<line x1="642.30" y1="546.35" x2="642.30" y2="536.01" stroke="#a00000" stroke-width="1.1"/>
<line x1="640.50" y1="536.01" x2="644.10" y2="536.01" stroke="#a00000" stroke-width="1.1"/>
<rect x="638.80" y="546.35" width="7.00" height="25.85" fill="#a80000"/>
<circle cx="641.70" cy="523.60" r="2.2" fill="#7a0000"/>
<circle cx="642.90" cy="527.74" r="2.2" fill="#7a0000"/>
<circle cx="641.70" cy="532.91" r="2.2" fill="#7a0000"/>
<circle cx="642.90" cy="563.93" r="2.2" fill="#7a0000"/>
<circle cx="641.70" cy="564.96" r="2.2" fill="#7a0000"/>
<rect x="649.50" y="559.79" width="7.00" height="12.41" fill="#000"/>
<line x1="653.00" y1="559.79" x2="653.00" y2="555.66" stroke="#000" stroke-width="1"/>
<circle cx="651.50" cy="551.52" r="2.2" fill="#8a8a8a"/>
<circle cx="654.50" cy="554.62" r="2.2" fill="#8a8a8a"/>
<circle cx="651.50" cy="558.76" r="2.2" fill="#8a8a8a"/>
<circle cx="654.50" cy="567.03" r="2.2" fill="#8a8a8a"/>
<circle cx="651.50" cy="563.93" r="2.2" fill="#8a8a8a"/>
<line x1="663.80" y1="511.19" x2="663.80" y2="475.00" stroke="#a00000" stroke-width="1.1"/>
<line x1="662.00" y1="475.00" x2="665.60" y2="475.00" stroke="#a00000" stroke-width="1.1"/>
<rect x="660.30" y="511.19" width="7.00" height="61.01" fill="#a80000"/>
<circle cx="663.20" cy="467.77" r="2.2" fill="#7a0000"/>
<circle cx="664.40" cy="491.55" r="2.2" fill="#7a0000"/>
<circle cx="663.20" cy="495.68" r="2.2" fill="#7a0000"/>
<circle cx="664.40" cy="506.02" r="2.2" fill="#7a0000"/>
<circle cx="663.20" cy="554.62" r="2.2" fill="#7a0000"/>
<circle cx="664.40" cy="561.86" r="2.2" fill="#7a0000"/>
<line x1="477.70" y1="572.20" x2="670.00" y2="572.20" stroke="#000" stroke-width="1.8"/>
<line x1="494.60" y1="572.20" x2="494.60" y2="574.80" stroke="#000" stroke-width="1"/>
<polygon points="505.20,578.6 516.00,573.3 516.00,578.6" fill="#000"/>
<line x1="505.20" y1="572.20" x2="505.20" y2="574.80" stroke="#000" stroke-width="1"/>
<text x="510.50" y="592.50" font-size="12.4" text-anchor="middle">F</text>
<polygon points="526.60,578.6 537.20,573.3 537.20,578.6" fill="#000"/>
<line x1="526.60" y1="572.20" x2="526.60" y2="574.80" stroke="#000" stroke-width="1"/>
<text x="531.80" y="592.50" font-size="12.4" text-anchor="middle">H</text>
<polygon points="547.60,578.6 558.20,573.3 558.20,578.6" fill="#000"/>
<line x1="547.60" y1="572.20" x2="547.60" y2="574.80" stroke="#000" stroke-width="1"/>
<text x="552.80" y="592.50" font-size="12.4" text-anchor="middle">I</text>
<polygon points="568.00,578.6 579.20,573.3 579.20,578.6" fill="#000"/>
<line x1="568.00" y1="572.20" x2="568.00" y2="574.80" stroke="#000" stroke-width="1"/>
<text x="573.50" y="592.50" font-size="12.4" text-anchor="middle">J</text>
<polygon points="589.40,578.6 600.00,573.3 600.00,578.6" fill="#000"/>
<line x1="589.40" y1="572.20" x2="589.40" y2="574.80" stroke="#000" stroke-width="1"/>
<text x="594.60" y="592.50" font-size="12.4" text-anchor="middle">K</text>
<polygon points="610.60,578.6 621.40,573.3 621.40,578.6" fill="#000"/>
<line x1="610.60" y1="572.20" x2="610.60" y2="574.80" stroke="#000" stroke-width="1"/>
<text x="615.90" y="592.50" font-size="12.4" text-anchor="middle">L</text>
<polygon points="631.60,578.6 642.50,573.3 642.50,578.6" fill="#000"/>
<line x1="631.60" y1="572.20" x2="631.60" y2="574.80" stroke="#000" stroke-width="1"/>
<text x="636.95" y="592.50" font-size="12.4" text-anchor="middle">M</text>
<polygon points="653.00,578.6 664.00,573.3 664.00,578.6" fill="#000"/>
<line x1="653.00" y1="572.20" x2="653.00" y2="574.80" stroke="#000" stroke-width="1"/>
<text x="658.40" y="592.50" font-size="12.4" text-anchor="middle">N</text>
<text x="422.80" y="589.80" font-size="12.4">Molecules:</text>
<text x="487.50" y="589.80" font-size="12.4" text-anchor="middle">-</text>
<text x="497.00" y="589.80" font-size="12.4" text-anchor="middle">-</text>
<line x1="495.50" y1="599.30" x2="660.70" y2="599.30" stroke="#000" stroke-width="1"/>
<text x="578.40" y="613.20" font-size="12.4" text-anchor="middle">CDDP/Pem</text>
<text x="508.10" y="517.40" font-size="7.9" transform="rotate(-90 508.10 517.40)">p=0.0004</text>
<text x="518.70" y="517.40" font-size="7.9" transform="rotate(-90 518.70 517.40)">p=0.0003</text>
<text x="550.50" y="545.40" font-size="7.9" transform="rotate(-90 550.50 545.40)">p=0.0073</text>
<text x="560.90" y="545.40" font-size="7.9" transform="rotate(-90 560.90 545.40)">p=0.0150</text>
<text x="582.60" y="552.50" font-size="7.9" transform="rotate(-90 582.60 552.50)">p=0.0324</text>
<text x="623.70" y="528.60" font-size="7.9" transform="rotate(-90 623.70 528.60)">p=0.0325</text>
<text x="645.50" y="519.30" font-size="7.9" transform="rotate(-90 645.50 519.30)">p=0.0259</text>
<text x="666.70" y="464.30" font-size="7.9" transform="rotate(-90 666.70 464.30)">p=0.0005</text>
<text x="525.80" y="558.80" font-size="8.9" text-anchor="middle">n.s.</text>
<text x="537.00" y="556.00" font-size="8.9" text-anchor="middle">n.s.</text>
<text x="568.50" y="558.20" font-size="8.9" text-anchor="middle">n.s.</text>
<text x="589.40" y="557.70" font-size="8.9" text-anchor="middle">n.s.</text>
<text x="599.50" y="554.00" font-size="8.9" text-anchor="middle">n.s.</text>
<text x="610.60" y="557.70" font-size="8.9" text-anchor="middle">n.s.</text>
<text x="631.30" y="557.70" font-size="8.9" text-anchor="middle">n.s.</text>
<text x="652.50" y="545.50" font-size="8.9" text-anchor="middle">n.s.</text>
<path d="M17.5,675.8 C12,677 8.5,680.5 9.2,684.5 C10,688.5 17,689.5 24,688.6 C30,687.8 35,686.4 38.8,685.9" stroke="#c9a0a0" stroke-width="1.7" fill="none" stroke-linecap="round"/>
<path d="M22,678 C24,681 27,682.5 31,682.6 M49.5,676 C50.5,678.5 52,680.5 55.5,681.4" stroke="#c9a0a0" stroke-width="1.3" fill="none" stroke-linecap="round"/>
<path d="M17.2,676 C16.5,669 22,663 30.5,661.4 C36,660.6 42,661.2 46,662.3 C47.5,660 48.8,658.2 50.3,658.2 C52,658.3 52.6,660 52.8,661.3 C56.5,662.5 60.5,664.5 62.5,666.6 C61.5,668.7 59.5,670.3 57,670.6 C54.5,672 52.5,674.5 51,676.5 C49,678.6 45,679.8 40.5,679.8 C34,680 28,679.8 23.5,678.8 C20,678 17.8,677.5 17.2,676 Z" fill="#4a4646"/>
<path d="M22,672 C26,676 34,677.5 42,676.5" stroke="#403d3d" stroke-width="1.2" fill="none"/>
<ellipse cx="48.4" cy="664.5" rx="1.7" ry="2.4" fill="#d4a09c" transform="rotate(-10 48.4 664.5)"/>
<circle cx="56" cy="665.4" r="0.8" fill="#111"/>
<circle cx="62.4" cy="666.8" r="0.6" fill="#d09090"/>
<line x1="56.50" y1="680.30" x2="200.80" y2="680.30" stroke="#555" stroke-width="1"/>
<line x1="57.00" y1="680.30" x2="57.00" y2="683.60" stroke="#555" stroke-width="1"/>
<line x1="88.80" y1="680.30" x2="88.80" y2="683.60" stroke="#555" stroke-width="1"/>
<line x1="120.10" y1="680.30" x2="120.10" y2="683.60" stroke="#555" stroke-width="1"/>
<line x1="152.40" y1="680.30" x2="152.40" y2="683.60" stroke="#555" stroke-width="1"/>
<line x1="192.00" y1="680.30" x2="192.00" y2="683.60" stroke="#555" stroke-width="1"/>
<text x="57.00" y="698.20" font-size="11.9" text-anchor="middle">d0</text>
<text x="88.80" y="698.20" font-size="11.9" text-anchor="middle">d9</text>
<text x="120.10" y="698.20" font-size="11.9" text-anchor="middle">d16</text>
<text x="152.30" y="698.20" font-size="11.9" text-anchor="middle">d23</text>
<text x="184.10" y="698.20" font-size="11.9" text-anchor="middle">d30</text>
<circle cx="79.20" cy="676.20" r="3.0" fill="#f79a9a"/>
<circle cx="83.87" cy="676.20" r="3.0" fill="#f79a9a"/>
<circle cx="88.54" cy="676.20" r="3.0" fill="#f79a9a"/>
<circle cx="93.21" cy="676.20" r="3.0" fill="#f79a9a"/>
<circle cx="97.88" cy="676.20" r="3.0" fill="#f79a9a"/>
<circle cx="102.55" cy="676.20" r="3.0" fill="#f79a9a"/>
<circle cx="107.22" cy="676.20" r="3.0" fill="#f79a9a"/>
<circle cx="111.89" cy="676.20" r="3.0" fill="#f79a9a"/>
<circle cx="116.56" cy="676.20" r="3.0" fill="#f79a9a"/>
<circle cx="57.00" cy="675.80" r="3.2" fill="#c8960a"/>
<circle cx="88.80" cy="660.80" r="3.0" fill="#c00000"/>
<circle cx="88.80" cy="668.60" r="2.8" fill="#12689e"/>
<circle cx="98.00" cy="668.60" r="2.8" fill="#12689e"/>
<circle cx="107.00" cy="668.60" r="2.8" fill="#12689e"/>
<circle cx="120.70" cy="668.60" r="2.8" fill="#12689e"/>
<circle cx="129.70" cy="668.60" r="2.8" fill="#12689e"/>
<circle cx="138.70" cy="668.60" r="2.8" fill="#12689e"/>
<circle cx="152.40" cy="668.60" r="2.8" fill="#12689e"/>
<circle cx="161.40" cy="668.60" r="2.8" fill="#12689e"/>
<circle cx="170.10" cy="668.60" r="2.8" fill="#12689e"/>
<path d="M125.8,652 L125.8,656" stroke="#a020c0" stroke-width="1"/><polygon points="123.8,655.2 127.8,655.2 125.8,658.3" fill="#a020c0"/>
<text x="26.10" y="724.20" font-size="12.65" fill="#c8a030" stroke="#c8a030">LLC1 (s.c.)</text>
<text x="26.10" y="736.80" font-size="12.65" fill="#cc2020" stroke="#cc2020">CDDP/Pem</text>
<text x="26.10" y="749.50" font-size="12.65" fill="#2a7ab0" stroke="#2a7ab0">αPD-1</text>
<text x="26.10" y="762.10" font-size="12.65" fill="#f8a0a0" stroke="#f8a0a0">Molecules</text>
<text x="26.10" y="775.00" font-size="12.65" fill="#a030b0" stroke="#a030b0">Tumor samples (Fig5G)</text>
<line x1="278.10" y1="638.50" x2="278.10" y2="782.40" stroke="#000" stroke-width="1.1"/>
<line x1="278.10" y1="782.40" x2="406.50" y2="782.40" stroke="#000" stroke-width="1.1"/>
<line x1="273.60" y1="782.40" x2="278.10" y2="782.40" stroke="#000" stroke-width="1.1"/>
<text x="271.20" y="786.50" font-size="11.6" text-anchor="end">0</text>
<line x1="273.60" y1="746.90" x2="278.10" y2="746.90" stroke="#000" stroke-width="1.1"/>
<text x="271.20" y="751.00" font-size="11.6" text-anchor="end">100</text>
<line x1="273.60" y1="711.40" x2="278.10" y2="711.40" stroke="#000" stroke-width="1.1"/>
<text x="271.20" y="715.50" font-size="11.6" text-anchor="end">200</text>
<line x1="273.60" y1="675.90" x2="278.10" y2="675.90" stroke="#000" stroke-width="1.1"/>
<text x="271.20" y="680.00" font-size="11.6" text-anchor="end">300</text>
<line x1="273.60" y1="640.40" x2="278.10" y2="640.40" stroke="#000" stroke-width="1.1"/>
<text x="271.20" y="644.50" font-size="11.6" text-anchor="end">400</text>
<text x="242.5" y="711.5" font-size="12.4" text-anchor="middle" transform="rotate(-90 242.5 711.5)">Tumor size (mm<tspan font-size="8.5" dy="-4.5">2</tspan><tspan dy="4.5">)</tspan></text>
<text x="344.90" y="642.30" font-size="12.4" text-anchor="middle">LLC1</text>
<line x1="287.40" y1="676.61" x2="287.40" y2="687.26" stroke="#000" stroke-width="1.1"/>
<line x1="287.40" y1="729.15" x2="287.40" y2="738.38" stroke="#000" stroke-width="1.1"/>
<line x1="285.40" y1="676.61" x2="289.40" y2="676.61" stroke="#000" stroke-width="1.1"/>
<line x1="285.40" y1="738.38" x2="289.40" y2="738.38" stroke="#000" stroke-width="1.1"/>
<rect x="283.20" y="687.26" width="8.4" height="41.89" fill="#474747" stroke="#000" stroke-width="1.1"/>
<line x1="283.20" y1="697.20" x2="291.60" y2="697.20" stroke="#000" stroke-width="1.2"/>
<line x1="287.40" y1="782.40" x2="287.40" y2="785.90" stroke="#000" stroke-width="1"/>
<line x1="301.30" y1="680.87" x2="301.30" y2="687.26" stroke="#000" stroke-width="1.1"/>
<line x1="301.30" y1="734.12" x2="301.30" y2="740.51" stroke="#000" stroke-width="1.1"/>
<line x1="299.30" y1="680.87" x2="303.30" y2="680.87" stroke="#000" stroke-width="1.1"/>
<line x1="299.30" y1="740.51" x2="303.30" y2="740.51" stroke="#000" stroke-width="1.1"/>
<rect x="297.10" y="687.26" width="8.4" height="46.86" fill="#474747" stroke="#000" stroke-width="1.1"/>
<line x1="297.10" y1="709.98" x2="305.50" y2="709.98" stroke="#000" stroke-width="1.2"/>
<line x1="301.30" y1="782.40" x2="301.30" y2="785.90" stroke="#000" stroke-width="1"/>
<line x1="315.00" y1="701.11" x2="315.00" y2="726.13" stroke="#c02020" stroke-width="1.1"/>
<line x1="315.00" y1="748.32" x2="315.00" y2="757.19" stroke="#c02020" stroke-width="1.1"/>
<line x1="313.00" y1="701.11" x2="317.00" y2="701.11" stroke="#c02020" stroke-width="1.1"/>
<line x1="313.00" y1="757.19" x2="317.00" y2="757.19" stroke="#c02020" stroke-width="1.1"/>
<rect x="310.80" y="726.13" width="8.4" height="22.19" fill="#c44a4a" stroke="#c02020" stroke-width="1.1"/>
<line x1="310.80" y1="739.44" x2="319.20" y2="739.44" stroke="#c02020" stroke-width="1.2"/>
<line x1="315.00" y1="782.40" x2="315.00" y2="785.90" stroke="#000" stroke-width="1"/>
<line x1="328.90" y1="714.60" x2="328.90" y2="718.50" stroke="#c02020" stroke-width="1.1"/>
<line x1="328.90" y1="751.51" x2="328.90" y2="768.20" stroke="#c02020" stroke-width="1.1"/>
<line x1="326.90" y1="714.60" x2="330.90" y2="714.60" stroke="#c02020" stroke-width="1.1"/>
<line x1="326.90" y1="768.20" x2="330.90" y2="768.20" stroke="#c02020" stroke-width="1.1"/>
<rect x="324.70" y="718.50" width="8.4" height="33.01" fill="#c44a4a" stroke="#c02020" stroke-width="1.1"/>
<line x1="324.70" y1="738.02" x2="333.10" y2="738.02" stroke="#c02020" stroke-width="1.2"/>
<line x1="328.90" y1="782.40" x2="328.90" y2="785.90" stroke="#000" stroke-width="1"/>
<line x1="342.70" y1="701.46" x2="342.70" y2="709.98" stroke="#000" stroke-width="1.1"/>
<line x1="342.70" y1="750.45" x2="342.70" y2="765.72" stroke="#000" stroke-width="1.1"/>
<line x1="340.70" y1="701.46" x2="344.70" y2="701.46" stroke="#000" stroke-width="1.1"/>
<line x1="340.70" y1="765.72" x2="344.70" y2="765.72" stroke="#000" stroke-width="1.1"/>
<rect x="338.50" y="709.98" width="8.4" height="40.47" fill="#474747" stroke="#000" stroke-width="1.1"/>
<line x1="338.50" y1="714.60" x2="346.90" y2="714.60" stroke="#000" stroke-width="1.2"/>
<line x1="342.70" y1="782.40" x2="342.70" y2="785.90" stroke="#000" stroke-width="1"/>
<line x1="356.50" y1="683.36" x2="356.50" y2="713.88" stroke="#000" stroke-width="1.1"/>
<line x1="356.50" y1="747.97" x2="356.50" y2="757.19" stroke="#000" stroke-width="1.1"/>
<line x1="354.50" y1="683.36" x2="358.50" y2="683.36" stroke="#000" stroke-width="1.1"/>
<line x1="354.50" y1="757.19" x2="358.50" y2="757.19" stroke="#000" stroke-width="1.1"/>
<rect x="352.30" y="713.88" width="8.4" height="34.08" fill="#474747" stroke="#000" stroke-width="1.1"/>
<line x1="352.30" y1="730.92" x2="360.70" y2="730.92" stroke="#000" stroke-width="1.2"/>
<line x1="356.50" y1="782.40" x2="356.50" y2="785.90" stroke="#000" stroke-width="1"/>
<line x1="370.20" y1="737.31" x2="370.20" y2="746.01" stroke="#c02020" stroke-width="1.1"/>
<line x1="370.20" y1="758.26" x2="370.20" y2="768.55" stroke="#c02020" stroke-width="1.1"/>
<line x1="368.20" y1="737.31" x2="372.20" y2="737.31" stroke="#c02020" stroke-width="1.1"/>
<line x1="368.20" y1="768.55" x2="372.20" y2="768.55" stroke="#c02020" stroke-width="1.1"/>
<rect x="366.00" y="746.01" width="8.4" height="12.25" fill="#c44a4a" stroke="#c02020" stroke-width="1.1"/>
<line x1="366.00" y1="753.64" x2="374.40" y2="753.64" stroke="#c02020" stroke-width="1.2"/>
<line x1="370.20" y1="782.40" x2="370.20" y2="785.90" stroke="#000" stroke-width="1"/>
<line x1="384.30" y1="679.45" x2="384.30" y2="699.33" stroke="#000" stroke-width="1.1"/>
<line x1="384.30" y1="745.48" x2="384.30" y2="754.00" stroke="#000" stroke-width="1.1"/>
<line x1="382.30" y1="679.45" x2="386.30" y2="679.45" stroke="#000" stroke-width="1.1"/>
<line x1="382.30" y1="754.00" x2="386.30" y2="754.00" stroke="#000" stroke-width="1.1"/>
<rect x="380.10" y="699.33" width="8.4" height="46.15" fill="#474747" stroke="#000" stroke-width="1.1"/>
<line x1="380.10" y1="722.05" x2="388.50" y2="722.05" stroke="#000" stroke-width="1.2"/>
<line x1="384.30" y1="782.40" x2="384.30" y2="785.90" stroke="#000" stroke-width="1"/>
<line x1="398.10" y1="685.49" x2="398.10" y2="713.17" stroke="#000" stroke-width="1.1"/>
<line x1="398.10" y1="748.32" x2="398.10" y2="754.00" stroke="#000" stroke-width="1.1"/>
<line x1="396.10" y1="685.49" x2="400.10" y2="685.49" stroke="#000" stroke-width="1.1"/>
<line x1="396.10" y1="754.00" x2="400.10" y2="754.00" stroke="#000" stroke-width="1.1"/>
<rect x="393.90" y="713.17" width="8.4" height="35.14" fill="#474747" stroke="#000" stroke-width="1.1"/>
<line x1="393.90" y1="726.66" x2="402.30" y2="726.66" stroke="#000" stroke-width="1.2"/>
<line x1="398.10" y1="782.40" x2="398.10" y2="785.90" stroke="#000" stroke-width="1"/>
<text x="318.60" y="698.10" font-size="8.8" transform="rotate(-90 318.60 698.10)">p=0.0038</text>
<text x="332.40" y="712.00" font-size="8.8" transform="rotate(-90 332.40 712.00)">p=0.0039</text>
<text x="374.20" y="734.60" font-size="8.8" transform="rotate(-90 374.20 734.60)">p=0.0003</text>
<text x="345.00" y="693.80" font-size="8.8" text-anchor="middle">n.s.</text>
<text x="358.80" y="680.00" font-size="8.8" text-anchor="middle">n.s.</text>
<text x="385.40" y="675.00" font-size="8.8" text-anchor="middle">n.s.</text>
<text x="400.10" y="682.00" font-size="8.8" text-anchor="middle">n.s.</text>
<text x="222.80" y="797.60" font-size="12.4">Molecules:</text>
<text x="288.00" y="797.60" font-size="12.4" text-anchor="middle">-</text>
<text x="302.00" y="797.60" font-size="12.4" text-anchor="middle">-</text>
<text x="316.30" y="797.60" font-size="12.4" text-anchor="middle">F</text>
<text x="331.20" y="797.60" font-size="12.4" text-anchor="middle">H</text>
<text x="344.90" y="797.60" font-size="12.4" text-anchor="middle">I</text>
<text x="358.60" y="797.60" font-size="12.4" text-anchor="middle">J</text>
<text x="372.70" y="797.60" font-size="12.4" text-anchor="middle">L</text>
<text x="386.70" y="797.60" font-size="12.4" text-anchor="middle">M</text>
<text x="399.80" y="797.60" font-size="12.4" text-anchor="middle">N</text>
<line x1="300.00" y1="805.60" x2="404.30" y2="805.60" stroke="#000" stroke-width="1"/>
<text x="351.30" y="818.60" font-size="12.4" text-anchor="middle">CDDP/Pem/αPD-1</text>
<rect x="495.70" y="698.50" width="16.65" height="16.60" fill="#6a6a6a"/>
<rect x="513.35" y="698.50" width="16.65" height="16.60" fill="#222222"/>
<rect x="531.00" y="698.50" width="16.65" height="16.60" fill="#b01818"/>
<text x="539.33" y="712.30" font-size="10.5" text-anchor="middle" fill="#111" stroke="#111">***</text>
<rect x="548.65" y="698.50" width="16.65" height="16.60" fill="#e0a0a0"/>
<text x="556.98" y="712.30" font-size="10.5" text-anchor="middle" fill="#111" stroke="#111">*</text>
<rect x="566.30" y="698.50" width="16.65" height="16.60" fill="#050505"/>
<rect x="583.95" y="698.50" width="16.65" height="16.60" fill="#e4a8a8"/>
<text x="592.28" y="712.30" font-size="10.5" text-anchor="middle" fill="#111" stroke="#111">*</text>
<rect x="601.60" y="698.50" width="16.65" height="16.60" fill="#b82828"/>
<text x="609.93" y="712.30" font-size="10.5" text-anchor="middle" fill="#111" stroke="#111">****</text>
<rect x="619.25" y="698.50" width="16.65" height="16.60" fill="#faf0f0"/>
<rect x="636.90" y="698.50" width="16.65" height="16.60" fill="#f0d0d0"/>
<text x="645.23" y="712.30" font-size="10.5" text-anchor="middle" fill="#111" stroke="#111">*</text>
<rect x="495.70" y="716.10" width="16.65" height="16.60" fill="#6a6a6a"/>
<rect x="513.35" y="716.10" width="16.65" height="16.60" fill="#8a8a8a"/>
<rect x="531.00" y="716.10" width="16.65" height="16.60" fill="#e09898"/>
<text x="539.33" y="729.90" font-size="10.5" text-anchor="middle" fill="#111" stroke="#111">*</text>
<rect x="548.65" y="716.10" width="16.65" height="16.60" fill="#d06868"/>
<text x="556.98" y="729.90" font-size="10.5" text-anchor="middle" fill="#111" stroke="#111">*</text>
<rect x="566.30" y="716.10" width="16.65" height="16.60" fill="#505050"/>
<text x="574.62" y="726.90" font-size="10.5" text-anchor="middle" fill="#111" stroke="#111">*</text>
<rect x="583.95" y="716.10" width="16.65" height="16.60" fill="#faf2f2"/>
<rect x="601.60" y="716.10" width="16.65" height="16.60" fill="#a80808"/>
<text x="609.93" y="729.90" font-size="10.5" text-anchor="middle" fill="#111" stroke="#111">***</text>
<rect x="619.25" y="716.10" width="16.65" height="16.60" fill="#cccccc"/>
<rect x="636.90" y="716.10" width="16.65" height="16.60" fill="#f8e8e8"/>
<text x="645.23" y="729.90" font-size="10.5" text-anchor="middle" fill="#111" stroke="#111">*</text>
<rect x="495.70" y="733.70" width="16.65" height="16.60" fill="#7a7a7a"/>
<rect x="513.35" y="733.70" width="16.65" height="16.60" fill="#6a6a6a"/>
<rect x="531.00" y="733.70" width="16.65" height="16.60" fill="#a80808"/>
<text x="539.33" y="747.50" font-size="10.5" text-anchor="middle" fill="#111" stroke="#111">**</text>
<rect x="548.65" y="733.70" width="16.65" height="16.60" fill="#f0d0d0"/>
<rect x="566.30" y="733.70" width="16.65" height="16.60" fill="#6a6a6a"/>
<rect x="583.95" y="733.70" width="16.65" height="16.60" fill="#e09898"/>
<rect x="601.60" y="733.70" width="16.65" height="16.60" fill="#c03838"/>
<text x="609.93" y="747.50" font-size="10.5" text-anchor="middle" fill="#111" stroke="#111">***</text>
<rect x="619.25" y="733.70" width="16.65" height="16.60" fill="#aaaaaa"/>
<rect x="636.90" y="733.70" width="16.65" height="16.60" fill="#f5e4e4"/>
<rect x="495.70" y="751.30" width="16.65" height="16.60" fill="#9a9a9a"/>
<rect x="513.35" y="751.30" width="16.65" height="16.60" fill="#474747"/>
<rect x="531.00" y="751.30" width="16.65" height="16.60" fill="#c03838"/>
<text x="539.33" y="765.10" font-size="10.5" text-anchor="middle" fill="#111" stroke="#111">***</text>
<rect x="548.65" y="751.30" width="16.65" height="16.60" fill="#e09090"/>
<text x="556.98" y="765.10" font-size="10.5" text-anchor="middle" fill="#111" stroke="#111">*</text>
<rect x="566.30" y="751.30" width="16.65" height="16.60" fill="#474747"/>
<rect x="583.95" y="751.30" width="16.65" height="16.60" fill="#faf8f8"/>
<rect x="601.60" y="751.30" width="16.65" height="16.60" fill="#d87878"/>
<text x="609.93" y="765.10" font-size="10.5" text-anchor="middle" fill="#111" stroke="#111">**</text>
<rect x="619.25" y="751.30" width="16.65" height="16.60" fill="#f5e0e0"/>
<text x="627.58" y="765.10" font-size="10.5" text-anchor="middle" fill="#111" stroke="#111">*</text>
<rect x="636.90" y="751.30" width="16.65" height="16.60" fill="#e09090"/>
<text x="645.23" y="765.10" font-size="10.5" text-anchor="middle" fill="#111" stroke="#111">**</text>
<rect x="495.70" y="768.90" width="16.65" height="16.60" fill="#474747"/>
<rect x="513.35" y="768.90" width="16.65" height="16.60" fill="#555555"/>
<rect x="531.00" y="768.90" width="16.65" height="16.60" fill="#e8a8a8"/>
<text x="539.33" y="782.70" font-size="10.5" text-anchor="middle" fill="#111" stroke="#111">*</text>
<rect x="548.65" y="768.90" width="16.65" height="16.60" fill="#e08888"/>
<text x="556.98" y="782.70" font-size="10.5" text-anchor="middle" fill="#111" stroke="#111">*</text>
<rect x="566.30" y="768.90" width="16.65" height="16.60" fill="#808080"/>
<rect x="583.95" y="768.90" width="16.65" height="16.60" fill="#f5f5f5"/>
<rect x="601.60" y="768.90" width="16.65" height="16.60" fill="#c84848"/>
<text x="609.93" y="782.70" font-size="10.5" text-anchor="middle" fill="#111" stroke="#111">***</text>
<rect x="619.25" y="768.90" width="16.65" height="16.60" fill="#f5dede"/>
<text x="627.58" y="782.70" font-size="10.5" text-anchor="middle" fill="#111" stroke="#111">*</text>
<rect x="636.90" y="768.90" width="16.65" height="16.60" fill="#c03838"/>
<text x="645.23" y="782.70" font-size="10.5" text-anchor="middle" fill="#111" stroke="#111">***</text>
<text x="488.80" y="711.20" font-size="12.6" text-anchor="end" font-style="italic">Cxcl10</text>
<text x="488.80" y="728.80" font-size="12.6" text-anchor="end" font-style="italic">Ifng</text>
<text x="488.80" y="746.40" font-size="12.6" text-anchor="end" font-style="italic">GzmB</text>
<text x="488.80" y="764.00" font-size="12.6" text-anchor="end" font-style="italic">Cd3e</text>
<text x="488.80" y="781.60" font-size="12.6" text-anchor="end" font-style="italic">Cd8a</text>
<text x="436.40" y="690.80" font-size="12.4">Molecules:</text>
<text x="504.02" y="690.80" font-size="12.4" text-anchor="middle">-</text>
<text x="521.68" y="690.80" font-size="12.4" text-anchor="middle">-</text>
<text x="539.33" y="690.80" font-size="12.4" text-anchor="middle">F</text>
<text x="556.98" y="690.80" font-size="12.4" text-anchor="middle">H</text>
<text x="574.62" y="690.80" font-size="12.4" text-anchor="middle">I</text>
<text x="592.28" y="690.80" font-size="12.4" text-anchor="middle">J</text>
<text x="609.93" y="690.80" font-size="12.4" text-anchor="middle">L</text>
<text x="627.58" y="690.80" font-size="12.4" text-anchor="middle">M</text>
<text x="645.23" y="690.80" font-size="12.4" text-anchor="middle">N</text>
<line x1="520.60" y1="674.30" x2="649.70" y2="674.30" stroke="#000" stroke-width="1"/>
<text x="584.40" y="671.00" font-size="12.4" text-anchor="middle">CDDP/Pem/αPD-1</text>
<defs><linearGradient id="gG2" x1="0" y1="0" x2="0" y2="1"><stop offset="0" stop-color="#b00000"/><stop offset="0.56" stop-color="#ffffff"/><stop offset="1" stop-color="#000000"/></linearGradient></defs>
<rect x="660.00" y="698.00" width="8.80" height="51.80" fill="url(#gG2)"/>
<text x="671.50" y="705.90" font-size="8.6">1.0</text>
<text x="671.50" y="718.10" font-size="8.6">0.5</text>
<text x="671.50" y="730.40" font-size="8.6">0</text>
<text x="671.50" y="743.80" font-size="8.6">-0.5</text>
</svg></body></html>
